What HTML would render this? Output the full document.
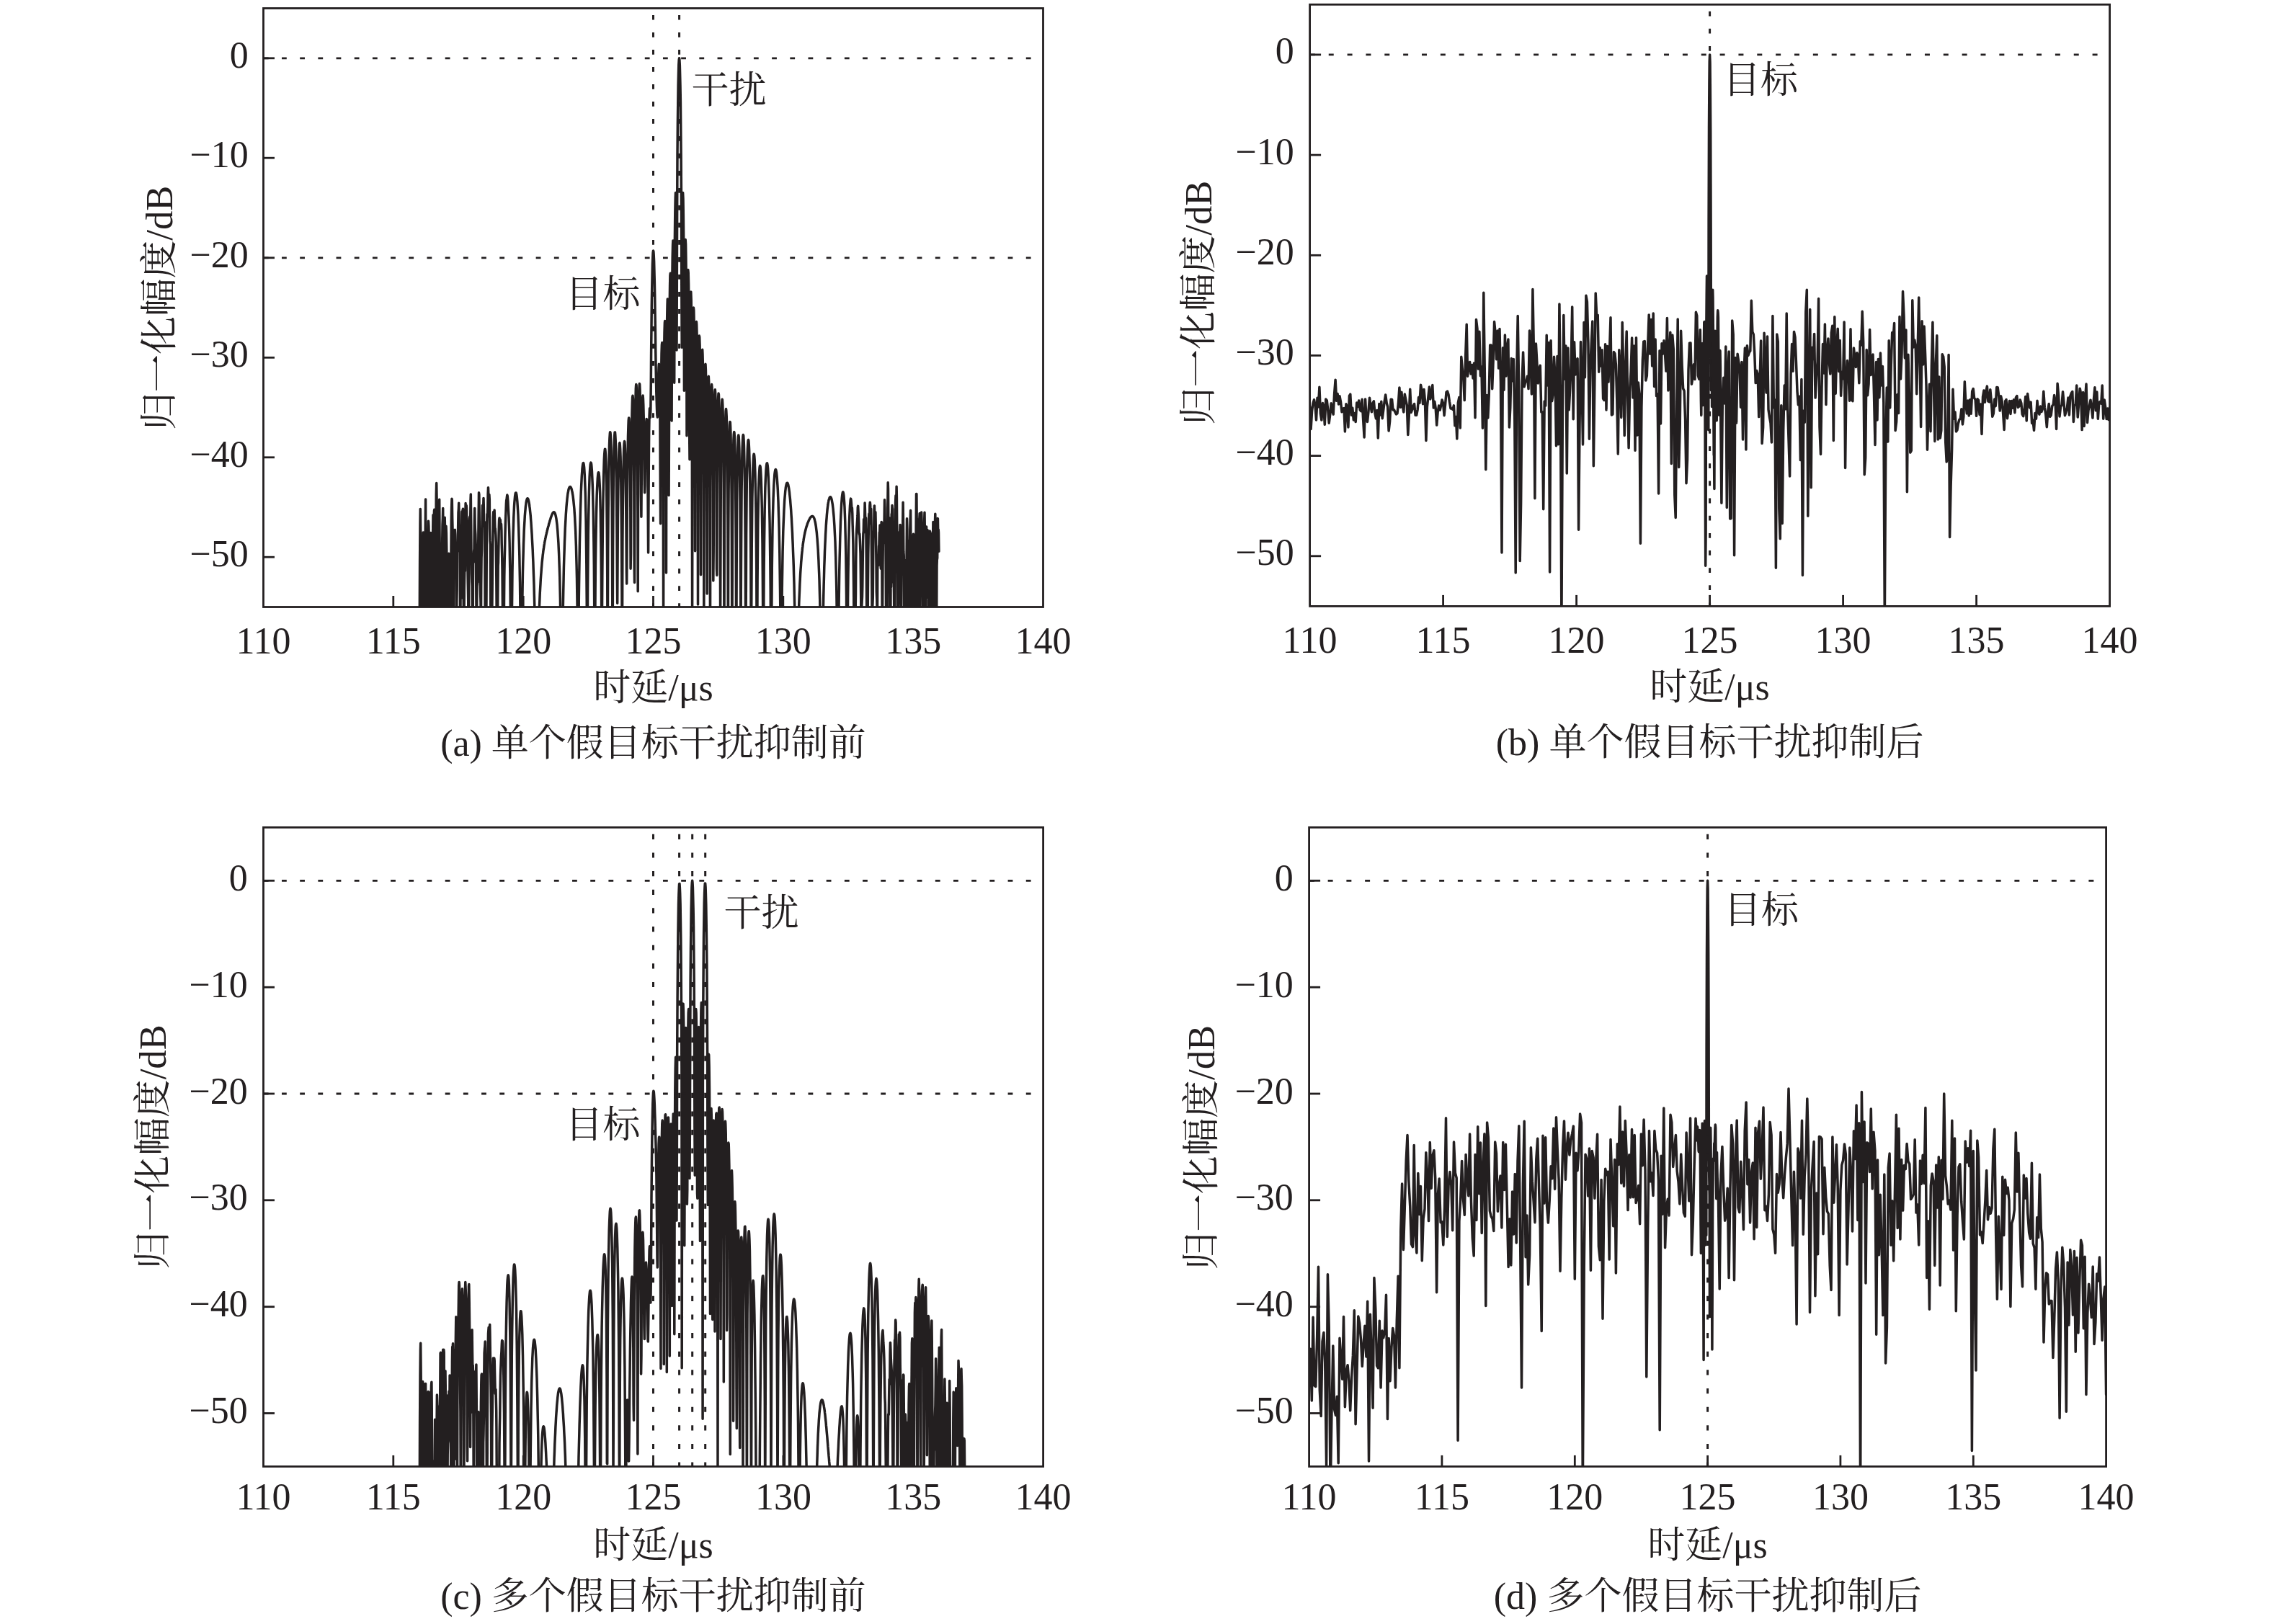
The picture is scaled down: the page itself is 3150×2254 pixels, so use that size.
<!DOCTYPE html>
<html><head><meta charset="utf-8"><style>
html,body{margin:0;padding:0;background:#fff;}
svg{display:block;}
text{font-family:"Liberation Serif", "Noto Serif CJK SC", serif;font-size:52px;fill:#231f20;}
text.yl{font-size:52.7px;}
</style></head><body>
<svg width="3150" height="2254" viewBox="0 0 3150 2254">
<clipPath id="clipa"><rect x="365.5" y="11.5" width="1082.0" height="831.0"/></clipPath>
<polyline clip-path="url(#clipa)" points="546.2,882.5 546.6,882.5 546.9,882.5 547.3,882.5 547.6,882.5 548.0,882.5 548.4,882.5 548.7,882.5 549.1,882.5 549.4,882.5 549.8,882.5 550.2,882.5 550.5,882.5 550.9,882.5 551.2,882.5 551.6,882.5 552.0,882.5 552.3,882.5 552.7,882.5 553.0,882.5 553.4,882.5 553.8,882.5 554.1,882.5 554.5,882.5 554.9,882.5 555.2,882.5 555.6,882.5 555.9,882.5 556.3,882.5 556.7,882.5 557.0,882.5 557.4,882.5 557.7,882.5 558.1,882.5 558.5,882.5 558.8,882.5 559.2,882.5 559.5,882.5 559.9,882.5 560.3,882.5 560.6,882.5 561.0,882.5 561.3,882.5 561.7,882.5 562.1,882.5 562.4,882.5 562.8,882.5 563.1,882.5 563.5,882.5 563.9,882.5 564.2,882.5 564.6,882.5 564.9,882.5 565.3,882.5 565.7,882.5 566.0,882.5 566.4,882.5 566.8,882.5 567.1,882.5 567.5,882.5 567.8,882.5 568.2,882.5 568.6,882.5 568.9,882.5 569.3,882.5 569.6,882.5 570.0,882.5 570.4,882.5 570.7,882.5 571.1,882.5 571.4,882.5 571.8,882.5 572.2,882.5 572.5,882.5 572.9,882.5 573.2,882.5 573.6,882.5 574.0,882.5 574.3,882.5 574.7,882.5 575.0,882.5 575.4,882.5 575.8,882.5 576.1,882.5 576.5,882.5 576.9,882.5 577.2,882.5 577.6,882.5 577.9,882.5 578.3,882.5 578.7,882.5 579.0,882.5 579.4,882.5 579.7,882.5 580.1,882.5 580.5,882.5 580.8,882.5 581.2,882.5 581.5,882.5 581.9,882.5 582.3,851.6 582.6,780.5 583.0,726.6 583.3,706.4 583.7,736.7 584.1,809.5 584.4,815.2 584.8,763.2 585.1,857.3 585.5,882.5 585.9,843.8 586.2,819.6 586.6,796.1 586.9,767.9 587.3,739.0 587.7,741.0 588.0,771.6 588.4,816.1 588.8,845.8 589.1,837.1 589.5,882.5 589.8,882.5 590.2,739.6 590.6,693.0 590.9,763.7 591.3,778.9 591.6,809.4 592.0,882.5 592.4,882.5 592.7,882.5 593.1,847.7 593.4,789.9 593.8,764.7 594.2,739.5 594.5,723.2 594.9,729.8 595.2,743.0 595.6,769.2 596.0,803.0 596.3,882.5 596.7,789.9 597.0,761.6 597.4,754.6 597.8,739.6 598.1,753.6 598.5,763.6 598.9,758.1 599.2,823.9 599.6,871.7 599.9,882.5 600.3,816.8 600.7,735.4 601.0,714.7 601.4,732.8 601.7,735.3 602.1,722.2 602.5,708.8 602.8,707.4 603.2,783.0 603.5,882.5 603.9,882.5 604.3,836.2 604.6,781.0 605.0,718.8 605.3,686.1 605.7,670.5 606.1,692.9 606.4,732.6 606.8,771.1 607.1,820.7 607.5,882.5 607.9,882.5 608.2,820.3 608.6,754.8 609.0,750.9 609.3,709.3 609.7,693.2 610.0,736.3 610.4,772.8 610.8,761.4 611.1,768.8 611.5,869.6 611.8,783.5 612.2,795.4 612.6,877.7 612.9,848.7 613.3,797.3 613.6,760.9 614.0,728.6 614.4,718.8 614.7,705.4 615.1,756.3 615.4,882.5 615.8,882.5 616.2,876.4 616.5,882.5 616.9,776.2 617.2,718.3 617.6,739.4 618.0,852.9 618.3,860.1 618.7,751.8 619.0,730.3 619.4,739.8 619.8,764.0 620.1,822.2 620.5,827.9 620.9,882.5 621.2,822.8 621.6,779.0 621.9,780.7 622.3,781.3 622.7,768.2 623.0,781.8 623.4,843.4 623.7,851.3 624.1,839.9 624.5,882.5 624.8,882.5 625.2,882.5 625.5,838.9 625.9,779.8 626.3,723.6 626.6,705.7 627.0,692.3 627.3,694.0 627.7,720.4 628.1,736.2 628.4,759.6 628.8,882.3 629.1,870.2 629.5,785.3 629.9,780.7 630.2,796.2 630.6,769.8 631.0,765.6 631.3,735.2 631.7,741.3 632.0,757.1 632.4,762.1 632.8,772.7 633.1,841.7 633.5,881.5 633.8,835.8 634.2,817.9 634.6,753.4 634.9,765.7 635.3,763.4 635.6,735.3 636.0,711.5 636.4,706.5 636.7,698.3 637.1,714.5 637.4,747.0 637.8,742.4 638.2,749.0 638.5,846.8 638.9,882.5 639.2,780.9 639.6,774.6 640.0,804.3 640.3,829.8 640.7,735.2 641.0,710.0 641.4,721.7 641.8,725.1 642.1,707.7 642.5,706.2 642.9,756.1 643.2,834.7 643.6,870.1 643.9,882.5 644.3,816.2 644.7,794.7 645.0,773.1 645.4,792.5 645.7,732.7 646.1,698.5 646.5,730.0 646.8,741.7 647.2,701.6 647.5,705.4 647.9,726.3 648.3,731.8 648.6,751.3 649.0,790.2 649.3,810.8 649.7,831.6 650.1,882.5 650.4,867.8 650.8,757.0 651.1,726.8 651.5,719.6 651.9,717.3 652.2,731.7 652.6,731.9 653.0,694.6 653.3,686.1 653.7,728.0 654.0,767.4 654.4,796.6 654.8,807.9 655.1,813.5 655.5,876.2 655.8,882.5 656.2,864.0 656.6,772.2 656.9,768.4 657.3,780.2 657.6,765.2 658.0,761.9 658.4,722.8 658.7,705.4 659.1,726.7 659.4,735.7 659.8,741.4 660.2,757.1 660.5,770.9 660.9,831.8 661.2,882.5 661.6,849.5 662.0,813.6 662.3,810.1 662.7,778.0 663.0,758.5 663.4,768.4 663.8,748.5 664.1,719.9 664.5,683.8 664.9,686.6 665.2,720.9 665.6,758.9 665.9,808.6 666.3,806.8 666.7,826.0 667.0,836.1 667.4,882.5 667.7,813.2 668.1,774.5 668.5,763.5 668.8,735.8 669.2,712.0 669.5,701.4 669.9,710.5 670.3,721.1 670.6,706.7 671.0,691.4 671.3,703.1 671.7,730.1 672.1,725.1 672.4,724.6 672.8,776.1 673.1,839.4 673.5,882.5 673.9,882.5 674.2,882.5 674.6,882.5 675.0,833.1 675.3,765.9 675.7,727.7 676.0,713.4 676.4,717.4 676.8,704.3 677.1,685.5 677.5,676.7 677.8,685.0 678.2,704.2 678.6,702.5 678.9,686.4 679.3,693.1 679.6,734.1 680.0,750.9 680.4,755.8 680.7,830.8 681.1,873.3 681.4,854.8 681.8,882.5 682.2,882.5 682.5,866.5 682.9,842.8 683.2,814.0 683.6,778.3 684.0,743.3 684.3,718.2 684.7,710.5 685.1,715.6 685.4,723.9 685.8,716.8 686.1,708.1 686.5,720.2 686.9,732.8 687.2,733.2 687.6,738.0 687.9,742.5 688.3,752.9 688.7,789.2 689.0,826.1 689.4,880.2 689.7,882.5 690.1,882.5 690.5,882.5 690.8,828.0 691.2,785.3 691.5,780.4 691.9,755.9 692.3,732.1 692.6,721.7 693.0,718.9 693.3,732.2 693.7,733.5 694.1,721.1 694.4,722.8 694.8,730.0 695.1,731.2 695.5,727.3 695.9,735.6 696.2,754.0 696.6,767.5 697.0,790.0 697.3,825.2 697.7,867.6 698.0,882.5 698.4,882.5 698.8,882.5 699.1,882.5 699.5,836.7 699.8,800.8 700.2,777.4 700.6,763.2 700.9,745.6 701.3,729.4 701.6,720.1 702.0,709.5 702.4,698.9 702.7,694.3 703.1,693.0 703.4,690.0 703.8,687.1 704.2,688.1 704.5,691.3 704.9,695.9 705.2,702.6 705.6,710.0 706.0,717.4 706.3,725.8 706.7,737.2 707.1,752.4 707.4,770.9 707.8,792.8 708.1,820.7 708.5,860.0 708.9,882.5 709.2,882.5 709.6,882.5 709.9,882.5 710.3,863.1 710.7,823.6 711.0,794.8 711.4,772.5 711.7,754.7 712.1,740.0 712.5,727.9 712.8,717.8 713.2,709.4 713.5,702.5 713.9,696.8 714.3,692.3 714.6,688.8 715.0,686.2 715.3,684.6 715.7,683.9 716.1,683.9 716.4,684.8 716.8,686.5 717.2,689.0 717.5,692.3 717.9,696.5 718.2,701.5 718.6,707.6 719.0,714.6 719.3,722.8 719.7,732.2 720.0,743.1 720.4,755.7 720.8,770.3 721.1,787.5 721.5,808.0 721.8,833.1 722.2,864.7 722.6,882.5 722.9,882.5 723.3,882.5 723.6,882.5 724.0,882.5 724.4,873.1 724.7,841.8 725.1,817.3 725.4,797.5 725.8,781.1 726.2,767.2 726.5,755.4 726.9,745.2 727.2,736.4 727.6,728.7 728.0,722.0 728.3,716.2 728.7,711.2 729.1,706.9 729.4,703.2 729.8,700.1 730.1,697.6 730.5,695.5 730.9,693.9 731.2,692.8 731.6,692.1 731.9,691.8 732.3,691.8 732.7,692.3 733.0,693.1 733.4,694.3 733.7,695.8 734.1,697.7 734.5,699.9 734.8,702.5 735.2,705.4 735.5,708.6 735.9,712.2 736.3,716.2 736.6,720.6 737.0,725.3 737.3,730.5 737.7,736.0 738.1,742.1 738.4,748.6 738.8,755.6 739.2,763.1 739.5,771.3 739.9,780.2 740.2,789.8 740.6,800.3 741.0,811.8 741.3,824.5 741.7,838.6 742.0,854.4 742.4,872.5 742.8,882.5 743.1,882.5 743.5,882.5 743.8,882.5 744.2,882.5 744.6,882.5 744.9,882.5 745.3,882.5 745.6,882.5 746.0,882.5 746.4,882.5 746.7,882.5 747.1,882.5 747.4,876.2 747.8,862.9 748.2,851.4 748.5,841.2 748.9,832.2 749.2,824.1 749.6,816.8 750.0,810.2 750.3,804.2 750.7,798.7 751.1,793.6 751.4,789.0 751.8,784.7 752.1,780.7 752.5,777.0 752.9,773.6 753.2,770.4 753.6,767.5 753.9,764.7 754.3,762.0 754.7,759.6 755.0,757.3 755.4,755.1 755.7,753.0 756.1,751.0 756.5,749.1 756.8,747.3 757.2,745.6 757.5,743.9 757.9,742.3 758.3,740.7 758.6,739.2 759.0,737.7 759.3,736.3 759.7,734.9 760.1,733.5 760.4,732.1 760.8,730.8 761.2,729.4 761.5,728.1 761.9,726.8 762.2,725.6 762.6,724.3 763.0,723.1 763.3,721.9 763.7,720.7 764.0,719.6 764.4,718.4 764.8,717.4 765.1,716.4 765.5,715.4 765.8,714.5 766.2,713.7 766.6,712.9 766.9,712.3 767.3,711.7 767.6,711.3 768.0,711.0 768.4,710.8 768.7,710.8 769.1,710.9 769.4,711.2 769.8,711.8 770.2,712.5 770.5,713.5 770.9,714.7 771.2,716.2 771.6,718.0 772.0,720.1 772.3,722.6 772.7,725.4 773.1,728.7 773.4,732.5 773.8,736.8 774.1,741.6 774.5,747.1 774.9,753.3 775.2,760.3 775.6,768.3 775.9,777.4 776.3,787.9 776.7,799.9 777.0,814.0 777.4,830.6 777.7,850.7 778.1,875.7 778.5,882.5 778.8,882.5 779.2,882.5 779.5,882.5 779.9,882.5 780.3,882.5 780.6,882.5 781.0,870.9 781.3,844.0 781.7,822.1 782.1,803.8 782.4,788.1 782.8,774.5 783.2,762.5 783.5,751.9 783.9,742.5 784.2,734.0 784.6,726.5 785.0,719.7 785.3,713.6 785.7,708.2 786.0,703.3 786.4,698.9 786.8,695.0 787.1,691.6 787.5,688.5 787.8,685.9 788.2,683.6 788.6,681.6 788.9,679.9 789.3,678.6 789.6,677.5 790.0,676.6 790.4,676.1 790.7,675.7 791.1,675.6 791.4,675.7 791.8,676.0 792.2,676.5 792.5,677.2 792.9,678.2 793.3,679.3 793.6,680.7 794.0,682.3 794.3,684.2 794.7,686.3 795.1,688.8 795.4,691.5 795.8,694.6 796.1,698.0 796.5,701.9 796.9,706.2 797.2,711.1 797.6,716.6 797.9,722.8 798.3,729.9 798.7,737.9 799.0,747.1 799.4,757.7 799.7,770.1 800.1,784.7 800.5,802.3 800.8,823.6 801.2,849.8 801.5,881.9 801.9,882.5 802.3,882.5 802.6,882.5 803.0,865.7 803.3,830.1 803.7,800.4 804.1,775.5 804.4,754.5 804.8,736.4 805.2,720.7 805.5,707.0 805.9,695.0 806.2,684.5 806.6,675.4 807.0,667.5 807.3,660.7 807.7,655.0 808.0,650.4 808.4,646.9 808.8,644.3 809.1,642.9 809.5,642.5 809.8,643.2 810.2,645.2 810.6,648.4 810.9,652.9 811.3,659.1 811.6,666.9 812.0,676.8 812.4,689.2 812.7,704.6 813.1,724.0 813.4,749.0 813.8,782.5 814.2,831.5 814.5,882.5 814.9,882.5 815.3,882.5 815.6,817.1 816.0,772.3 816.3,740.6 816.7,716.7 817.1,698.0 817.4,683.2 817.8,671.3 818.1,661.8 818.5,654.5 818.9,648.9 819.2,645.1 819.6,642.8 819.9,642.1 820.3,642.7 820.7,644.8 821.0,648.4 821.4,653.6 821.7,660.4 822.1,669.0 822.5,679.6 822.8,692.6 823.2,708.5 823.5,728.0 823.9,752.4 824.3,783.8 824.6,825.7 825.0,882.1 825.3,882.5 825.7,879.0 826.1,824.7 826.4,784.7 826.8,755.0 827.2,732.0 827.5,713.8 827.9,699.0 828.2,687.1 828.6,677.5 829.0,669.9 829.3,664.0 829.7,659.7 830.0,656.9 830.4,655.7 830.8,655.9 831.1,657.6 831.5,661.0 831.8,666.1 832.2,673.2 832.6,682.7 832.9,695.0 833.3,710.9 833.6,731.5 834.0,758.9 834.4,796.7 834.7,850.2 835.1,882.5 835.4,861.4 835.8,800.0 836.2,755.1 836.5,721.9 836.9,696.3 837.3,676.1 837.6,660.1 838.0,647.3 838.3,637.5 838.7,630.3 839.1,625.6 839.4,623.2 839.8,623.4 840.1,626.1 840.5,631.8 840.9,640.7 841.2,653.8 841.6,672.1 841.9,697.8 842.3,735.3 842.7,795.4 843.0,882.5 843.4,857.8 843.7,765.2 844.1,711.9 844.5,676.3 844.8,650.7 845.2,631.8 845.5,618.0 845.9,608.3 846.3,602.3 846.6,599.7 847.0,600.4 847.4,604.5 847.7,612.4 848.1,624.6 848.4,642.3 848.8,667.3 849.2,703.7 849.5,761.6 849.9,878.8 850.2,874.4 850.6,759.4 851.0,702.0 851.3,665.8 851.7,640.8 852.0,623.2 852.4,611.2 852.8,603.6 853.1,599.9 853.5,600.0 853.8,603.6 854.2,611.1 854.6,622.8 854.9,639.5 855.3,662.6 855.6,694.7 856.0,740.9 856.4,807.3 856.7,837.3 857.1,771.7 857.4,718.5 857.8,682.5 858.2,657.5 858.5,639.7 858.9,627.4 859.3,619.5 859.6,615.3 860.0,614.7 860.3,617.4 860.7,623.7 861.1,633.9 861.4,648.7 861.8,669.4 862.1,698.5 862.5,741.7 862.9,814.8 863.2,882.5 863.6,837.9 863.9,752.6 864.3,704.7 864.7,672.8 865.0,650.2 865.4,634.0 865.7,622.8 866.1,615.8 866.5,612.6 866.8,613.0 867.2,617.3 867.5,625.8 867.9,639.3 868.3,659.3 868.6,688.4 869.0,731.6 869.4,793.2 869.7,810.1 870.1,743.3 870.4,689.3 870.8,651.7 871.2,624.8 871.5,605.4 871.9,592.0 872.2,583.6 872.6,579.9 873.0,581.0 873.3,587.4 873.7,599.8 874.0,620.3 874.4,652.4 874.8,704.5 875.1,789.3 875.5,768.1 875.8,683.9 876.2,631.9 876.6,597.8 876.9,574.9 877.3,559.9 877.6,551.6 878.0,549.3 878.4,553.1 878.7,563.7 879.1,582.9 879.4,614.3 879.8,668.0 880.2,786.1 880.5,808.5 880.9,671.6 881.3,611.6 881.6,575.9 882.0,553.2 882.3,539.7 882.7,533.6 883.1,534.3 883.4,542.0 883.8,558.0 884.1,584.7 884.5,628.7 884.9,709.1 885.2,820.7 885.6,684.7 885.9,615.6 886.3,576.3 886.7,552.2 887.0,538.3 887.4,532.4 887.7,533.7 888.1,542.2 888.5,558.9 888.8,585.8 889.2,626.9 889.5,686.2 889.9,717.3 890.3,662.9 890.6,614.0 891.0,582.4 891.4,562.9 891.7,552.3 892.1,549.0 892.4,552.3 892.8,561.9 893.2,577.9 893.5,600.8 893.9,630.5 894.2,663.4 894.6,683.7 895.0,674.2 895.3,649.2 895.7,625.4 896.0,607.0 896.4,593.9 896.8,585.5 897.1,581.6 897.5,582.4 897.8,588.7 898.2,602.0 898.6,625.2 898.9,663.5 899.3,726.5 899.6,767.0 900.0,692.4 900.4,634.1 900.7,598.2 901.1,576.9 901.5,567.0 901.8,566.6 902.2,573.5 902.5,579.2 902.9,566.1 903.3,531.0 903.6,490.6 904.0,454.6 904.3,424.7 904.7,400.6 905.1,381.7 905.4,367.3 905.8,357.1 906.1,350.7 906.5,348.0 906.9,349.3 907.2,354.0 907.6,362.3 907.9,374.2 908.3,389.6 908.7,408.7 909.0,431.3 909.4,456.7 909.7,483.5 910.1,508.9 910.5,529.7 910.8,544.8 911.2,556.4 911.5,566.9 911.9,576.0 912.3,579.0 912.6,571.2 913.0,554.5 913.4,535.8 913.7,520.0 914.1,509.5 914.4,505.2 914.8,508.0 915.2,519.4 915.5,541.9 915.9,581.8 916.2,655.7 916.6,726.8 917.0,618.8 917.3,553.1 917.7,514.3 918.0,490.8 918.4,478.4 918.8,475.5 919.1,482.4 919.5,501.0 919.8,536.8 920.2,607.8 920.6,870.1 920.9,617.6 921.3,532.2 921.6,487.6 922.0,461.7 922.4,448.3 922.7,445.5 923.1,453.4 923.5,474.3 923.8,515.0 924.2,601.5 924.5,795.0 924.9,557.7 925.3,485.8 925.6,446.8 926.0,424.8 926.3,415.1 926.7,416.4 927.1,429.6 927.4,458.8 927.8,517.4 928.1,687.5 928.5,581.9 928.9,476.4 929.2,425.7 929.6,396.9 929.9,382.2 930.3,379.2 930.7,388.1 931.0,411.9 931.4,460.7 931.7,582.1 932.1,584.0 932.5,449.2 932.8,390.6 933.2,357.4 933.6,339.6 933.9,333.9 934.3,340.3 934.6,361.9 935.0,408.2 935.4,525.8 935.7,531.2 936.1,392.4 936.4,331.2 936.8,295.6 937.2,275.4 937.5,267.4 937.9,271.8 938.2,291.9 938.6,339.8 939.0,485.9 939.3,400.9 939.7,279.1 940.0,215.1 940.4,172.1 940.8,140.9 941.1,117.9 941.5,101.2 941.8,89.8 942.2,83.0 942.6,80.8 942.9,83.1 943.3,89.8 943.6,101.3 944.0,118.0 944.4,141.1 944.7,172.3 945.1,215.5 945.5,279.8 945.8,403.0 946.2,482.3 946.5,338.9 946.9,291.4 947.3,271.5 947.6,267.4 948.0,275.7 948.3,296.3 948.7,332.5 949.1,395.2 949.4,542.3 949.8,515.9 950.1,404.2 950.5,359.3 950.9,338.5 951.2,332.6 951.6,338.8 951.9,357.4 952.3,391.9 952.7,453.5 953.0,604.7 953.4,560.7 953.7,451.2 954.1,405.0 954.5,382.5 954.8,374.5 955.2,378.3 955.6,394.0 955.9,424.3 956.3,478.3 956.6,597.2 957.0,637.7 957.4,499.1 957.7,445.2 958.1,417.8 958.4,405.7 958.8,405.2 959.2,415.7 959.5,438.9 959.9,480.2 960.2,558.8 960.6,855.7 961.0,568.9 961.3,491.9 961.7,453.8 962.0,434.2 962.4,427.0 962.8,430.4 963.1,444.5 963.5,471.7 963.8,519.5 964.2,616.5 964.6,764.8 964.9,567.4 965.3,503.3 965.6,469.9 966.0,452.6 966.4,446.6 966.7,450.5 967.1,464.6 967.5,491.2 967.8,537.3 968.2,628.1 968.5,839.1 968.9,597.1 969.3,528.7 969.6,493.1 970.0,473.9 970.3,466.1 970.7,467.7 971.1,478.8 971.4,500.9 971.8,538.7 972.1,606.6 972.5,797.8 972.9,664.3 973.2,570.7 973.6,525.7 973.9,500.8 974.3,488.2 974.7,485.3 975.0,491.3 975.4,506.8 975.7,534.2 976.1,580.5 976.5,669.5 976.8,847.5 977.2,641.4 977.6,572.7 977.9,536.2 978.3,515.7 978.6,506.1 979.0,505.4 979.4,513.3 979.7,530.6 980.1,560.3 980.4,610.3 980.8,711.3 981.2,823.9 981.5,649.8 981.9,586.6 982.2,552.1 982.6,532.5 983.0,523.1 983.3,522.3 983.7,529.5 984.0,545.8 984.4,573.6 984.8,620.1 985.1,709.9 985.5,882.5 985.8,680.5 986.2,609.8 986.6,571.6 986.9,549.2 987.3,537.3 987.6,533.6 988.0,537.6 988.4,549.5 988.7,570.9 989.1,606.1 989.5,666.3 989.8,806.1 990.2,765.5 990.5,654.1 990.9,601.7 991.3,570.9 991.6,552.5 992.0,542.9 992.3,540.7 992.7,545.4 993.1,557.5 993.4,578.5 993.8,612.2 994.1,668.4 994.5,789.2 994.9,798.4 995.2,673.3 995.6,616.8 995.9,583.5 996.3,562.8 996.7,550.9 997.0,546.0 997.4,547.5 997.7,555.3 998.1,570.3 998.5,594.5 998.8,632.3 999.2,696.5 999.6,859.9 999.9,779.2 1000.3,672.9 1000.6,621.6 1001.0,590.5 1001.4,570.9 1001.7,559.4 1002.1,554.3 1002.4,555.0 1002.8,561.5 1003.2,574.3 1003.5,594.8 1003.9,625.8 1004.2,674.9 1004.6,767.9 1005.0,882.5 1005.3,729.5 1005.7,659.9 1006.0,620.4 1006.4,595.5 1006.8,579.7 1007.1,570.8 1007.5,567.6 1007.8,569.8 1008.2,577.3 1008.6,590.8 1008.9,611.6 1009.3,642.4 1009.7,690.2 1010.0,776.5 1010.4,882.5 1010.7,752.9 1011.1,682.2 1011.5,641.9 1011.8,616.1 1012.2,599.6 1012.5,589.7 1012.9,585.4 1013.3,586.1 1013.6,591.9 1014.0,602.9 1014.3,620.3 1014.7,646.0 1015.1,684.4 1015.4,747.3 1015.8,882.5 1016.1,842.5 1016.5,732.6 1016.9,679.4 1017.2,646.6 1017.6,624.9 1017.9,610.9 1018.3,602.6 1018.7,599.4 1019.0,600.7 1019.4,606.7 1019.7,617.6 1020.1,634.5 1020.5,659.2 1020.8,695.6 1021.2,754.1 1021.6,879.6 1021.9,882.2 1022.3,756.4 1022.6,698.6 1023.0,662.9 1023.4,638.9 1023.7,622.5 1024.1,611.8 1024.4,605.8 1024.8,604.0 1025.2,606.1 1025.5,612.2 1025.9,622.8 1026.2,638.6 1026.6,661.1 1027.0,693.3 1027.3,742.4 1027.7,830.3 1028.0,882.5 1028.4,791.5 1028.8,723.0 1029.1,681.8 1029.5,653.9 1029.8,634.2 1030.2,620.3 1030.6,611.0 1030.9,605.5 1031.3,603.5 1031.7,604.8 1032.0,609.4 1032.4,617.5 1032.7,629.6 1033.1,646.5 1033.5,669.7 1033.8,702.1 1034.2,750.5 1034.5,837.7 1034.9,882.5 1035.3,820.5 1035.6,743.9 1036.0,699.9 1036.3,670.3 1036.7,649.2 1037.1,633.9 1037.4,623.0 1037.8,615.8 1038.1,611.7 1038.5,610.5 1038.9,612.0 1039.2,616.3 1039.6,623.5 1039.9,633.8 1040.3,647.9 1040.7,666.6 1041.0,691.4 1041.4,725.3 1041.8,775.3 1042.1,861.7 1042.5,882.5 1042.8,831.2 1043.2,762.3 1043.6,720.6 1043.9,692.0 1044.3,671.3 1044.6,656.1 1045.0,645.1 1045.4,637.3 1045.7,632.5 1046.1,630.3 1046.4,630.5 1046.8,633.1 1047.2,638.2 1047.5,645.8 1047.9,656.3 1048.2,670.2 1048.6,688.2 1049.0,711.7 1049.3,743.2 1049.7,788.2 1050.0,862.7 1050.4,882.5 1050.8,882.5 1051.1,805.6 1051.5,757.6 1051.8,725.4 1052.2,702.0 1052.6,684.4 1052.9,671.2 1053.3,661.3 1053.7,654.1 1054.0,649.4 1054.4,646.9 1054.7,646.4 1055.1,647.8 1055.5,651.3 1055.8,656.9 1056.2,664.7 1056.5,674.9 1056.9,688.1 1057.3,704.9 1057.6,726.3 1058.0,754.4 1058.3,792.9 1058.7,850.8 1059.1,882.5 1059.4,882.5 1059.8,845.9 1060.1,790.7 1060.5,753.7 1060.9,726.7 1061.2,706.0 1061.6,689.7 1061.9,676.7 1062.3,666.4 1062.7,658.3 1063.0,652.1 1063.4,647.6 1063.8,644.6 1064.1,643.0 1064.5,642.8 1064.8,643.9 1065.2,646.3 1065.6,650.1 1065.9,655.3 1066.3,662.0 1066.6,670.3 1067.0,680.4 1067.4,692.7 1067.7,707.7 1068.1,725.9 1068.4,748.4 1068.8,777.4 1069.2,816.7 1069.5,876.3 1069.9,882.5 1070.2,882.5 1070.6,882.5 1071.0,825.0 1071.3,785.5 1071.7,757.0 1072.0,735.0 1072.4,717.5 1072.8,703.2 1073.1,691.5 1073.5,681.8 1073.8,673.9 1074.2,667.3 1074.6,662.1 1074.9,658.0 1075.3,655.0 1075.7,652.9 1076.0,651.8 1076.4,651.5 1076.7,652.1 1077.1,653.5 1077.5,655.7 1077.8,658.7 1078.2,662.6 1078.5,667.3 1078.9,673.0 1079.3,679.7 1079.6,687.4 1080.0,696.4 1080.3,706.6 1080.7,718.5 1081.1,732.2 1081.4,748.2 1081.8,767.1 1082.1,789.8 1082.5,818.2 1082.9,855.2 1083.2,882.5 1083.6,882.5 1083.9,882.5 1084.3,882.5 1084.7,875.3 1085.0,835.9 1085.4,806.8 1085.8,784.1 1086.1,765.7 1086.5,750.4 1086.8,737.5 1087.2,726.5 1087.6,717.1 1087.9,708.9 1088.3,701.8 1088.6,695.7 1089.0,690.5 1089.4,686.0 1089.7,682.1 1090.1,678.9 1090.4,676.3 1090.8,674.1 1091.2,672.5 1091.5,671.3 1091.9,670.5 1092.2,670.2 1092.6,670.2 1093.0,670.7 1093.3,671.5 1093.7,672.6 1094.0,674.1 1094.4,676.0 1094.8,678.2 1095.1,680.7 1095.5,683.6 1095.8,686.8 1096.2,690.4 1096.6,694.3 1096.9,698.5 1097.3,703.2 1097.7,708.2 1098.0,713.6 1098.4,719.4 1098.7,725.7 1099.1,732.4 1099.5,739.7 1099.8,747.5 1100.2,755.9 1100.5,765.1 1100.9,774.9 1101.3,785.7 1101.6,797.5 1102.0,810.5 1102.3,824.9 1102.7,841.1 1103.1,859.6 1103.4,881.1 1103.8,882.5 1104.1,882.5 1104.5,882.5 1104.9,882.5 1105.2,882.5 1105.6,882.5 1105.9,882.5 1106.3,882.5 1106.7,882.5 1107.0,882.5 1107.4,882.5 1107.8,876.4 1108.1,861.2 1108.5,848.2 1108.8,836.9 1109.2,827.0 1109.6,818.1 1109.9,810.2 1110.3,803.1 1110.6,796.6 1111.0,790.7 1111.4,785.4 1111.7,780.5 1112.1,776.0 1112.4,771.8 1112.8,768.0 1113.2,764.5 1113.5,761.2 1113.9,758.2 1114.2,755.3 1114.6,752.7 1115.0,750.3 1115.3,748.0 1115.7,745.9 1116.0,743.9 1116.4,742.0 1116.8,740.2 1117.1,738.6 1117.5,737.0 1117.9,735.6 1118.2,734.2 1118.6,732.8 1118.9,731.6 1119.3,730.4 1119.7,729.3 1120.0,728.2 1120.4,727.2 1120.7,726.2 1121.1,725.3 1121.5,724.4 1121.8,723.6 1122.2,722.7 1122.5,722.0 1122.9,721.2 1123.3,720.6 1123.6,719.9 1124.0,719.3 1124.3,718.7 1124.7,718.2 1125.1,717.8 1125.4,717.4 1125.8,717.0 1126.1,716.8 1126.5,716.6 1126.9,716.5 1127.2,716.4 1127.6,716.5 1127.9,716.6 1128.3,716.9 1128.7,717.3 1129.0,717.8 1129.4,718.5 1129.8,719.4 1130.1,720.4 1130.5,721.5 1130.8,722.9 1131.2,724.5 1131.6,726.3 1131.9,728.4 1132.3,730.8 1132.6,733.5 1133.0,736.5 1133.4,739.8 1133.7,743.6 1134.1,747.8 1134.4,752.4 1134.8,757.7 1135.2,763.5 1135.5,770.0 1135.9,777.3 1136.2,785.5 1136.6,794.7 1137.0,805.2 1137.3,817.2 1137.7,831.1 1138.0,847.4 1138.4,866.9 1138.8,882.5 1139.1,882.5 1139.5,882.5 1139.9,882.5 1140.2,882.5 1140.6,882.5 1140.9,882.5 1141.3,882.5 1141.7,882.5 1142.0,871.5 1142.4,848.6 1142.7,829.5 1143.1,813.2 1143.5,799.0 1143.8,786.5 1144.2,775.5 1144.5,765.6 1144.9,756.7 1145.3,748.7 1145.6,741.5 1146.0,735.0 1146.3,729.0 1146.7,723.7 1147.1,718.8 1147.4,714.5 1147.8,710.5 1148.1,707.0 1148.5,703.9 1148.9,701.1 1149.2,698.6 1149.6,696.5 1149.9,694.7 1150.3,693.2 1150.7,692.0 1151.0,691.0 1151.4,690.3 1151.8,689.9 1152.1,689.7 1152.5,689.8 1152.8,690.2 1153.2,690.8 1153.6,691.7 1153.9,692.8 1154.3,694.3 1154.6,696.0 1155.0,698.1 1155.4,700.5 1155.7,703.3 1156.1,706.4 1156.4,710.0 1156.8,714.0 1157.2,718.6 1157.5,723.8 1157.9,729.6 1158.2,736.1 1158.6,743.6 1159.0,752.0 1159.3,761.7 1159.7,772.8 1160.0,785.7 1160.4,801.0 1160.8,819.3 1161.1,841.8 1161.5,870.3 1161.9,882.5 1162.2,882.5 1162.6,882.5 1162.9,882.5 1163.3,882.5 1163.7,878.3 1164.0,843.6 1164.4,816.3 1164.7,794.0 1165.1,775.3 1165.5,759.4 1165.8,745.7 1166.2,733.8 1166.5,723.5 1166.9,714.6 1167.3,707.0 1167.6,700.5 1168.0,695.0 1168.3,690.6 1168.7,687.2 1169.1,684.8 1169.4,683.3 1169.8,682.8 1170.1,683.4 1170.5,684.9 1170.9,687.7 1171.2,691.6 1171.6,696.8 1172.0,703.5 1172.3,711.8 1172.7,722.1 1173.0,734.7 1173.4,750.2 1173.8,769.4 1174.1,793.9 1174.5,826.3 1174.8,872.5 1175.2,882.5 1175.6,882.5 1175.9,882.5 1176.3,879.7 1176.6,831.3 1177.0,798.0 1177.4,772.9 1177.7,753.5 1178.1,738.6 1178.4,726.6 1178.8,716.2 1179.2,707.9 1179.5,702.0 1179.9,697.6 1180.2,693.9 1180.6,692.1 1181.0,693.6 1181.3,697.1 1181.7,702.2 1182.0,704.7 1182.4,704.8 1182.8,712.5 1183.1,726.4 1183.5,738.8 1183.9,755.1 1184.2,781.5 1184.6,815.6 1184.9,850.1 1185.3,882.5 1185.7,882.5 1186.0,882.5 1186.4,882.5 1186.7,880.3 1187.1,849.7 1187.5,823.1 1187.8,776.0 1188.2,750.1 1188.5,742.5 1188.9,733.2 1189.3,727.2 1189.6,722.1 1190.0,715.2 1190.3,704.2 1190.7,702.4 1191.1,710.7 1191.4,716.7 1191.8,726.2 1192.1,738.6 1192.5,741.6 1192.9,741.1 1193.2,747.7 1193.6,757.1 1194.0,768.3 1194.3,792.0 1194.7,827.8 1195.0,882.5 1195.4,868.0 1195.8,842.5 1196.1,835.9 1196.5,828.0 1196.8,813.9 1197.2,781.3 1197.6,749.8 1197.9,740.7 1198.3,736.7 1198.6,720.8 1199.0,722.7 1199.4,738.8 1199.7,719.8 1200.1,698.0 1200.4,707.1 1200.8,724.2 1201.2,720.4 1201.5,718.8 1201.9,738.9 1202.2,769.6 1202.6,836.2 1203.0,882.5 1203.3,882.5 1203.7,882.5 1204.1,882.5 1204.4,818.4 1204.8,769.5 1205.1,751.9 1205.5,720.3 1205.9,713.0 1206.2,726.6 1206.6,716.7 1206.9,701.9 1207.3,697.2 1207.7,700.8 1208.0,712.7 1208.4,709.9 1208.7,706.3 1209.1,730.3 1209.5,772.5 1209.8,812.4 1210.2,866.7 1210.5,847.4 1210.9,838.8 1211.3,828.2 1211.6,787.1 1212.0,741.5 1212.3,742.8 1212.7,737.5 1213.1,706.2 1213.4,701.9 1213.8,716.1 1214.1,740.3 1214.5,727.0 1214.9,710.7 1215.2,726.0 1215.6,753.7 1216.0,782.1 1216.3,821.8 1216.7,831.2 1217.0,844.9 1217.4,872.4 1217.8,777.3 1218.1,776.0 1218.5,784.9 1218.8,784.7 1219.2,775.6 1219.6,757.9 1219.9,756.3 1220.3,738.7 1220.6,742.0 1221.0,728.9 1221.4,742.1 1221.7,769.1 1222.1,785.4 1222.4,789.2 1222.8,733.7 1223.2,724.4 1223.5,759.6 1223.9,793.6 1224.2,870.8 1224.6,847.0 1225.0,784.2 1225.3,757.0 1225.7,747.7 1226.1,725.7 1226.4,734.9 1226.8,753.3 1227.1,722.7 1227.5,693.7 1227.9,704.9 1228.2,725.2 1228.6,730.3 1228.9,744.6 1229.3,802.5 1229.7,879.4 1230.0,882.5 1230.4,856.5 1230.7,801.4 1231.1,850.5 1231.5,761.1 1231.8,699.7 1232.2,669.7 1232.5,678.5 1232.9,732.6 1233.3,753.1 1233.6,724.0 1234.0,718.8 1234.3,756.5 1234.7,810.5 1235.1,882.5 1235.4,882.5 1235.8,882.5 1236.1,784.9 1236.5,814.8 1236.9,763.9 1237.2,713.5 1237.6,712.4 1238.0,701.5 1238.3,704.9 1238.7,706.4 1239.0,728.5 1239.4,807.7 1239.8,799.2 1240.1,799.3 1240.5,822.8 1240.8,852.6 1241.2,882.5 1241.6,812.4 1241.9,759.9 1242.3,749.9 1242.6,697.2 1243.0,687.7 1243.4,715.9 1243.7,700.3 1244.1,675.3 1244.4,690.7 1244.8,741.1 1245.2,790.7 1245.5,882.5 1245.9,882.5 1246.2,859.1 1246.6,850.4 1247.0,783.0 1247.3,739.1 1247.7,766.8 1248.1,836.7 1248.4,777.3 1248.8,736.5 1249.1,728.4 1249.5,743.7 1249.9,765.9 1250.2,834.9 1250.6,882.5 1250.9,815.6 1251.3,742.8 1251.7,746.0 1252.0,760.4 1252.4,767.2 1252.7,728.3 1253.1,697.3 1253.5,727.0 1253.8,765.4 1254.2,770.4 1254.5,796.7 1254.9,869.4 1255.3,838.1 1255.6,856.2 1256.0,864.7 1256.3,777.5 1256.7,790.7 1257.1,806.0 1257.4,798.7 1257.8,797.5 1258.2,760.1 1258.5,719.7 1258.9,734.4 1259.2,838.0 1259.6,882.5 1260.0,882.5 1260.3,882.5 1260.7,860.7 1261.0,776.8 1261.4,750.7 1261.8,752.9 1262.1,764.7 1262.5,753.4 1262.8,735.5 1263.2,719.6 1263.6,708.6 1263.9,745.3 1264.3,882.5 1264.6,882.5 1265.0,817.9 1265.4,753.4 1265.7,755.5 1266.1,782.3 1266.4,793.9 1266.8,765.0 1267.2,746.3 1267.5,741.3 1267.9,742.5 1268.2,798.8 1268.6,882.5 1269.0,882.5 1269.3,830.3 1269.7,882.5 1270.1,866.3 1270.4,749.8 1270.8,768.8 1271.1,737.9 1271.5,685.6 1271.9,685.6 1272.2,722.4 1272.6,786.2 1272.9,754.5 1273.3,751.0 1273.7,882.5 1274.0,816.0 1274.4,736.9 1274.7,720.9 1275.1,737.9 1275.5,746.0 1275.8,720.1 1276.2,712.4 1276.5,769.9 1276.9,844.6 1277.3,775.8 1277.6,782.2 1278.0,809.1 1278.3,746.9 1278.7,711.1 1279.1,723.8 1279.4,735.9 1279.8,730.4 1280.2,770.6 1280.5,827.9 1280.9,882.5 1281.2,882.5 1281.6,791.9 1282.0,792.5 1282.3,749.7 1282.7,721.4 1283.0,711.3 1283.4,740.4 1283.8,754.6 1284.1,810.2 1284.5,882.5 1284.8,865.2 1285.2,764.7 1285.6,730.9 1285.9,766.3 1286.3,821.2 1286.6,757.7 1287.0,735.6 1287.4,744.9 1287.7,801.0 1288.1,830.2 1288.4,800.0 1288.8,862.6 1289.2,863.1 1289.5,828.0 1289.9,779.1 1290.2,737.1 1290.6,737.8 1291.0,745.2 1291.3,744.5 1291.7,744.4 1292.1,740.5 1292.4,800.3 1292.8,882.5 1293.1,882.5 1293.5,805.3 1293.9,756.3 1294.2,758.1 1294.6,745.9 1294.9,724.4 1295.3,746.2 1295.7,816.1 1296.0,820.7 1296.4,857.4 1296.7,859.1 1297.1,748.1 1297.5,724.0 1297.8,713.3 1298.2,738.2 1298.5,822.0 1298.9,829.0 1299.3,850.7 1299.6,882.5 1300.0,785.5 1300.3,777.1 1300.7,774.4 1301.1,719.6 1301.4,719.9 1301.8,742.8 1302.2,734.9 1302.5,739.1 1302.9,765.3" fill="none" stroke="#231f20" stroke-width="3.5" stroke-linejoin="round" stroke-linecap="round"/>
<line x1="365.8" y1="80.8" x2="1447.5" y2="80.8" stroke="#231f20" stroke-width="2.8" stroke-dasharray="6.80 18.39"/>
<line x1="365.8" y1="357.8" x2="1447.5" y2="357.8" stroke="#231f20" stroke-width="2.8" stroke-dasharray="6.80 18.39"/>
<line x1="906.5" y1="20.9" x2="906.5" y2="842.5" stroke="#231f20" stroke-width="3" stroke-dasharray="6.72 17.29"/>
<line x1="942.6" y1="20.9" x2="942.6" y2="842.5" stroke="#231f20" stroke-width="3" stroke-dasharray="6.72 17.29"/>
<rect x="365.5" y="11.5" width="1082.0" height="831.0" fill="none" stroke="#231f20" stroke-width="2.8"/>
<line x1="365.5" y1="80.8" x2="381.0" y2="80.8" stroke="#231f20" stroke-width="2.8"/>
<text x="344.7" y="93.5" text-anchor="end">0</text>
<line x1="365.5" y1="219.2" x2="381.0" y2="219.2" stroke="#231f20" stroke-width="2.8"/>
<text x="344.7" y="232.1" text-anchor="end">−10</text>
<line x1="365.5" y1="357.8" x2="381.0" y2="357.8" stroke="#231f20" stroke-width="2.8"/>
<text x="344.7" y="370.6" text-anchor="end">−20</text>
<line x1="365.5" y1="496.3" x2="381.0" y2="496.3" stroke="#231f20" stroke-width="2.8"/>
<text x="344.7" y="509.1" text-anchor="end">−30</text>
<line x1="365.5" y1="634.8" x2="381.0" y2="634.8" stroke="#231f20" stroke-width="2.8"/>
<text x="344.7" y="647.5" text-anchor="end">−40</text>
<line x1="365.5" y1="773.2" x2="381.0" y2="773.2" stroke="#231f20" stroke-width="2.8"/>
<text x="344.7" y="786.0" text-anchor="end">−50</text>
<text x="365.5" y="906.8" text-anchor="middle">110</text>
<line x1="545.8" y1="842.5" x2="545.8" y2="827.0" stroke="#231f20" stroke-width="2.8"/>
<text x="545.8" y="906.8" text-anchor="middle">115</text>
<line x1="726.2" y1="842.5" x2="726.2" y2="827.0" stroke="#231f20" stroke-width="2.8"/>
<text x="726.2" y="906.8" text-anchor="middle">120</text>
<line x1="906.5" y1="842.5" x2="906.5" y2="827.0" stroke="#231f20" stroke-width="2.8"/>
<text x="906.5" y="906.8" text-anchor="middle">125</text>
<line x1="1086.8" y1="842.5" x2="1086.8" y2="827.0" stroke="#231f20" stroke-width="2.8"/>
<text x="1086.8" y="906.8" text-anchor="middle">130</text>
<line x1="1267.2" y1="842.5" x2="1267.2" y2="827.0" stroke="#231f20" stroke-width="2.8"/>
<text x="1267.2" y="906.8" text-anchor="middle">135</text>
<text x="1447.5" y="906.8" text-anchor="middle">140</text>
<text x="906.5" y="971.9" text-anchor="middle">时延/μs</text>
<text x="906.5" y="1049.0" text-anchor="middle">(a) 单个假目标干扰抑制前</text>
<text class="yl" transform="translate(239.0,427.3) rotate(-90)" text-anchor="middle">归一化幅度/dB</text>
<clipPath id="clipb"><rect x="1817.6" y="6.3" width="1110.0" height="835.1"/></clipPath>
<polyline clip-path="url(#clipb)" points="1817.6,563.8 1819.1,595.4 1820.6,570.1 1822.0,559.8 1823.5,554.7 1825.0,562.3 1826.5,582.9 1828.0,552.3 1829.4,564.8 1830.9,537.2 1832.4,573.9 1833.9,583.1 1835.4,559.6 1836.8,564.3 1838.3,589.3 1839.8,554.0 1841.3,555.9 1842.8,570.0 1844.2,587.2 1845.7,575.5 1847.2,559.7 1848.7,570.2 1850.2,575.1 1851.6,546.8 1853.1,527.2 1854.6,556.3 1856.1,546.4 1857.6,561.1 1859.0,549.8 1860.5,557.9 1862.0,571.7 1863.5,567.1 1865.0,566.6 1866.4,598.9 1867.9,560.8 1869.4,564.5 1870.9,593.0 1872.4,549.5 1873.8,547.2 1875.3,576.2 1876.8,566.2 1878.3,582.9 1879.8,573.5 1881.2,585.5 1882.7,559.0 1884.2,564.5 1885.7,556.0 1887.2,569.1 1888.6,570.6 1890.1,554.3 1891.6,582.0 1893.1,606.9 1894.6,553.9 1896.0,580.6 1897.5,585.4 1899.0,570.9 1900.5,552.2 1902.0,563.4 1903.4,571.7 1904.9,559.6 1906.4,556.8 1907.9,573.0 1909.4,581.0 1910.8,569.5 1912.3,607.9 1913.8,560.5 1915.3,576.0 1916.8,557.3 1918.2,580.7 1919.7,569.3 1921.2,557.0 1922.7,548.1 1924.2,559.2 1925.6,564.5 1927.1,598.0 1928.6,584.7 1930.1,554.3 1931.6,554.5 1933.0,568.9 1934.5,568.8 1936.0,572.1 1937.5,574.9 1939.0,573.8 1940.4,560.5 1941.9,537.9 1943.4,565.3 1944.9,544.2 1946.4,562.9 1947.8,572.0 1949.3,547.1 1950.8,554.9 1952.3,562.0 1953.8,603.4 1955.2,578.3 1956.7,540.2 1958.2,572.4 1959.7,568.4 1961.2,563.1 1962.6,560.6 1964.1,576.3 1965.6,576.3 1967.1,569.0 1968.6,551.5 1970.0,559.4 1971.5,534.2 1973.0,541.7 1974.5,560.7 1976.0,540.5 1977.4,555.8 1978.9,611.5 1980.4,564.5 1981.9,550.9 1983.4,537.1 1984.8,553.9 1986.3,546.9 1987.8,534.6 1989.3,566.1 1990.8,557.4 1992.2,566.5 1993.7,590.1 1995.2,571.7 1996.7,562.9 1998.2,569.2 1999.6,563.0 2001.1,554.9 2002.6,559.7 2004.1,576.7 2005.6,561.1 2007.0,544.3 2008.5,543.0 2010.0,547.6 2011.5,558.0 2013.0,566.9 2014.4,566.8 2015.9,568.4 2017.4,562.9 2018.9,590.8 2020.4,578.4 2021.8,609.0 2023.3,559.1 2024.8,551.6 2026.3,593.9 2027.8,495.3 2029.2,511.1 2030.7,523.9 2032.2,555.6 2033.7,493.4 2035.2,450.3 2036.6,522.2 2038.1,506.7 2039.6,502.5 2041.1,519.1 2042.6,506.6 2044.0,524.9 2045.5,503.9 2047.0,579.7 2048.5,443.6 2050.0,456.5 2051.4,512.1 2052.9,460.2 2054.4,521.8 2055.9,509.1 2057.4,594.3 2058.8,406.3 2060.3,516.3 2061.8,651.7 2063.3,548.4 2064.8,579.9 2066.2,548.9 2067.7,479.0 2069.2,478.9 2070.7,539.8 2072.2,498.6 2073.6,446.6 2075.1,462.7 2076.6,498.8 2078.1,459.1 2079.6,511.1 2081.0,456.5 2082.5,531.8 2084.0,766.9 2085.5,482.8 2087.0,541.2 2088.4,465.0 2089.9,522.0 2091.4,482.5 2092.9,471.1 2094.4,593.1 2095.8,565.4 2097.3,497.4 2098.8,528.8 2100.3,498.4 2101.8,583.0 2103.2,794.9 2104.7,517.2 2106.2,438.5 2107.7,537.6 2109.2,778.6 2110.6,698.8 2112.1,530.3 2113.6,488.9 2115.1,536.8 2116.6,530.5 2118.0,528.8 2119.5,522.2 2121.0,539.6 2122.5,459.1 2124.0,494.6 2125.4,546.9 2126.9,401.6 2128.4,485.3 2129.9,691.7 2131.4,477.0 2132.8,502.6 2134.3,531.9 2135.8,511.6 2137.3,507.3 2138.8,572.0 2140.2,571.7 2141.7,706.8 2143.2,557.0 2144.7,563.1 2146.2,465.3 2147.6,535.0 2149.1,475.6 2150.6,793.9 2152.1,472.8 2153.6,556.8 2155.0,547.7 2156.5,495.2 2158.0,523.0 2159.5,618.8 2161.0,494.6 2162.4,616.8 2163.9,422.0 2165.4,548.9 2166.9,866.7 2168.4,571.0 2169.8,437.4 2171.3,526.3 2172.8,480.1 2174.3,656.9 2175.8,483.0 2177.2,568.8 2178.7,539.1 2180.2,504.0 2181.7,425.9 2183.2,581.7 2184.6,474.8 2186.1,519.9 2187.6,500.4 2189.1,497.7 2190.6,735.3 2192.0,592.3 2193.5,474.6 2195.0,529.4 2196.5,616.9 2198.0,447.4 2199.4,523.7 2200.9,410.3 2202.4,418.8 2203.9,475.6 2205.4,609.2 2206.8,510.2 2208.3,476.8 2209.8,446.1 2211.3,646.7 2212.8,532.9 2214.2,406.9 2215.7,439.0 2217.2,437.3 2218.7,516.2 2220.2,482.6 2221.6,508.0 2223.1,485.7 2224.6,553.2 2226.1,555.5 2227.6,477.8 2229.0,568.9 2230.5,480.6 2232.0,530.1 2233.5,486.2 2235.0,440.8 2236.4,576.0 2237.9,575.0 2239.4,488.6 2240.9,490.7 2242.4,506.4 2243.8,557.1 2245.3,629.9 2246.8,485.8 2248.3,514.1 2249.8,579.4 2251.2,447.4 2252.7,510.2 2254.2,604.4 2255.7,510.5 2257.2,460.1 2258.6,547.9 2260.1,621.7 2261.6,544.1 2263.1,515.8 2264.6,469.0 2266.0,551.9 2267.5,480.1 2269.0,625.3 2270.5,468.7 2272.0,603.9 2273.4,530.9 2274.9,547.3 2276.4,754.2 2277.9,565.5 2279.4,499.4 2280.8,474.2 2282.3,473.6 2283.8,528.0 2285.3,521.7 2286.8,475.8 2288.2,436.9 2289.7,491.2 2291.2,443.6 2292.7,508.0 2294.2,435.0 2295.6,536.6 2297.1,471.1 2298.6,549.6 2300.1,546.7 2301.6,685.0 2303.0,486.7 2304.5,588.0 2306.0,476.7 2307.5,491.2 2309.0,472.7 2310.4,489.4 2311.9,515.1 2313.4,441.6 2314.9,542.0 2316.4,494.5 2317.8,461.3 2319.3,643.4 2320.8,465.0 2322.3,485.2 2323.8,686.9 2325.2,718.5 2326.7,564.3 2328.2,442.9 2329.7,648.5 2331.2,591.7 2332.6,459.3 2334.1,507.0 2335.6,539.2 2337.1,542.5 2338.6,582.6 2340.0,670.7 2341.5,637.8 2343.0,513.6 2344.5,476.3 2346.0,476.0 2347.4,533.2 2348.9,524.2 2350.4,505.7 2351.9,526.4 2353.4,433.2 2354.8,438.2 2356.3,521.2 2357.8,526.2 2358.2,493.6 2358.5,478.4 2358.9,470.5 2359.3,457.7 2359.7,486.2 2360.0,517.3 2360.4,556.8 2360.8,576.4 2361.1,517.9 2361.5,483.6 2361.9,476.8 2362.2,496.5 2362.6,545.9 2363.0,562.5 2363.4,527.1 2363.7,494.4 2364.1,495.1 2364.5,469.7 2364.8,447.1 2365.2,446.5 2365.6,470.1 2365.9,534.5 2366.3,679.2 2366.7,785.2 2367.1,741.5 2367.4,557.2 2367.8,457.6 2368.2,410.5 2368.5,382.9 2368.9,388.8 2369.3,423.3 2369.6,459.1 2370.0,471.3 2370.4,467.1 2370.8,596.7 2371.1,306.4 2371.5,177.0 2371.9,116.2 2372.2,85.4 2372.6,75.9 2373.0,85.7 2373.3,117.1 2373.7,179.2 2374.1,315.2 2374.5,541.7 2374.8,426.5 2375.2,436.7 2375.6,564.4 2375.9,542.2 2376.3,430.7 2376.7,402.3 2377.0,413.5 2377.4,463.5 2377.8,564.5 2378.2,631.8 2378.5,631.9 2378.9,678.4 2379.3,560.7 2379.6,485.9 2380.0,459.2 2380.4,462.7 2380.7,493.4 2381.1,529.9 2381.5,526.4 2381.9,556.2 2382.2,583.7 2382.6,528.7 2383.0,469.9 2383.3,440.2 2383.7,430.7 2384.1,434.3 2384.4,440.9 2384.8,488.4 2385.2,542.0 2385.6,576.3 2385.9,549.5 2386.3,507.4 2386.7,486.4 2387.0,487.3 2387.4,510.3 2387.4,546.9 2388.9,698.2 2390.4,549.1 2391.8,524.2 2393.3,560.0 2394.8,481.0 2396.3,704.6 2397.8,513.8 2399.2,488.0 2400.7,720.1 2402.2,719.6 2403.7,445.1 2405.2,464.4 2406.6,770.7 2408.1,496.4 2409.6,586.9 2411.1,491.3 2412.6,501.4 2414.0,509.9 2415.5,565.3 2417.0,502.4 2418.5,610.1 2420.0,519.3 2421.4,483.1 2422.9,623.9 2424.4,479.7 2425.9,493.4 2427.4,488.9 2428.8,487.1 2430.3,417.2 2431.8,460.5 2433.3,464.2 2434.8,491.6 2436.2,531.6 2437.7,514.5 2439.2,519.4 2440.7,578.6 2442.2,523.1 2443.6,473.0 2445.1,615.4 2446.6,593.2 2448.1,462.3 2449.6,510.3 2451.0,545.0 2452.5,467.1 2454.0,568.5 2455.5,578.9 2457.0,587.1 2458.4,613.9 2459.9,438.6 2461.4,565.7 2462.9,555.1 2464.4,788.3 2465.8,464.0 2467.3,474.2 2468.8,705.7 2470.3,747.8 2471.8,562.8 2473.2,726.5 2474.7,596.6 2476.2,535.0 2477.7,567.7 2479.2,434.9 2480.6,566.1 2482.1,612.2 2483.6,661.0 2485.1,518.7 2486.6,477.6 2488.0,515.3 2489.5,460.4 2491.0,468.0 2492.5,503.5 2494.0,543.3 2495.4,561.8 2496.9,550.2 2498.4,638.6 2499.9,526.5 2501.4,798.6 2502.8,570.1 2504.3,586.3 2505.8,432.9 2507.3,402.3 2508.8,716.2 2510.2,567.5 2511.7,429.5 2513.2,676.8 2514.7,482.2 2516.2,498.4 2517.6,463.4 2519.1,552.1 2520.6,525.4 2522.1,502.0 2523.6,414.5 2525.0,592.9 2526.5,630.4 2528.0,539.3 2529.5,477.6 2531.0,518.0 2532.4,450.0 2533.9,561.6 2535.4,488.2 2536.9,469.9 2538.4,503.6 2539.8,519.0 2541.3,461.8 2542.8,452.2 2544.3,611.4 2545.8,439.7 2547.2,546.2 2548.7,486.3 2550.2,456.2 2551.7,515.4 2553.2,472.4 2554.6,549.3 2556.1,516.2 2557.6,525.8 2559.1,446.9 2560.6,649.4 2562.0,530.8 2563.5,500.6 2565.0,518.1 2566.5,556.3 2568.0,456.8 2569.4,554.9 2570.9,556.7 2572.4,483.0 2573.9,496.7 2575.4,509.5 2576.8,489.7 2578.3,493.6 2579.8,531.7 2581.3,473.8 2582.8,479.1 2584.2,432.2 2585.7,475.6 2587.2,658.7 2588.7,635.1 2590.2,485.6 2591.6,548.7 2593.1,532.7 2594.6,457.4 2596.1,520.6 2597.6,516.7 2599.0,492.1 2600.5,547.7 2602.0,617.4 2603.5,502.6 2605.0,583.0 2606.4,498.4 2607.9,551.7 2609.4,490.0 2610.9,534.9 2612.4,508.4 2613.8,558.4 2615.3,861.0 2616.8,613.6 2618.3,537.9 2619.8,613.0 2621.2,472.8 2622.7,565.9 2624.2,508.3 2625.7,461.6 2627.2,469.0 2628.6,448.5 2630.1,597.6 2631.6,585.6 2633.1,547.4 2634.6,573.5 2636.0,439.5 2637.5,526.0 2639.0,491.0 2640.5,404.6 2642.0,439.1 2643.4,497.0 2644.9,458.0 2646.4,682.8 2647.9,492.2 2649.4,547.1 2650.8,628.1 2652.3,625.5 2653.8,416.8 2655.3,481.9 2656.8,472.1 2658.2,481.1 2659.7,546.8 2661.2,481.9 2662.7,413.0 2664.2,501.7 2665.6,592.5 2667.1,445.7 2668.6,505.9 2670.1,453.1 2671.6,492.1 2673.0,534.5 2674.5,624.3 2676.0,567.9 2677.5,533.2 2679.0,598.8 2680.4,506.6 2681.9,447.3 2683.4,532.6 2684.9,612.4 2686.4,503.9 2687.8,465.7 2689.3,609.9 2690.8,523.0 2692.3,608.1 2693.8,597.4 2695.2,491.7 2696.7,495.0 2698.2,509.3 2699.7,613.1 2701.2,641.1 2702.6,632.3 2704.1,492.5 2705.6,745.5 2707.1,673.9 2708.6,624.1 2710.0,540.2 2711.5,581.2 2713.0,571.9 2714.5,598.9 2716.0,596.8 2717.4,587.7 2718.9,582.5 2720.4,580.9 2721.9,567.7 2723.4,588.9 2724.8,578.6 2726.3,529.7 2727.8,559.5 2729.3,573.9 2730.8,556.0 2732.2,577.0 2733.7,554.7 2735.2,574.2 2736.7,543.1 2738.2,539.5 2739.6,552.4 2741.1,554.5 2742.6,577.3 2744.1,553.8 2745.6,555.7 2747.0,575.4 2748.5,561.0 2750.0,602.4 2751.5,550.8 2753.0,541.9 2754.4,558.4 2755.9,543.6 2757.4,536.1 2758.9,557.0 2760.4,557.8 2761.8,540.7 2763.3,556.7 2764.8,578.3 2766.3,573.9 2767.8,554.0 2769.2,563.7 2770.7,537.5 2772.2,537.7 2773.7,549.6 2775.2,570.1 2776.6,549.8 2778.1,556.6 2779.6,573.3 2781.1,596.5 2782.6,556.8 2784.0,554.6 2785.5,580.7 2787.0,567.2 2788.5,556.6 2790.0,574.4 2791.4,556.5 2792.9,566.3 2794.4,554.8 2795.9,572.7 2797.4,551.8 2798.8,549.6 2800.3,565.4 2801.8,564.0 2803.3,555.0 2804.8,559.5 2806.2,574.9 2807.7,577.7 2809.2,568.1 2810.7,550.6 2812.2,584.0 2813.6,546.6 2815.1,558.0 2816.6,566.0 2818.1,558.1 2819.6,587.4 2821.0,583.1 2822.5,597.3 2824.0,573.6 2825.5,581.2 2827.0,556.3 2828.4,571.5 2829.9,575.2 2831.4,563.9 2832.9,571.6 2834.4,567.4 2835.8,543.3 2837.3,565.4 2838.8,575.6 2840.3,592.7 2841.8,570.3 2843.2,560.5 2844.7,578.3 2846.2,576.4 2847.7,563.5 2849.2,561.5 2850.6,548.6 2852.1,558.3 2853.6,595.5 2855.1,532.3 2856.6,549.1 2858.0,578.0 2859.5,564.5 2861.0,562.3 2862.5,543.7 2864.0,559.7 2865.4,576.7 2866.9,571.9 2868.4,566.2 2869.9,552.1 2871.4,575.9 2872.8,550.1 2874.3,545.7 2875.8,543.5 2877.3,585.4 2878.8,563.3 2880.2,561.5 2881.7,535.1 2883.2,579.0 2884.7,559.1 2886.2,539.2 2887.6,546.0 2889.1,596.6 2890.6,544.6 2892.1,591.4 2893.6,553.1 2895.0,533.1 2896.5,586.5 2898.0,569.6 2899.5,562.7 2901.0,555.2 2902.4,565.5 2903.9,580.1 2905.4,554.6 2906.9,537.8 2908.4,569.8 2909.8,544.1 2911.3,581.3 2912.8,558.9 2914.3,557.4 2915.8,560.1 2917.2,535.1 2918.7,581.2 2920.2,555.0 2921.7,565.8 2923.2,581.6 2924.6,567.1 2926.1,582.5 2927.6,565.5" fill="none" stroke="#231f20" stroke-width="3.5" stroke-linejoin="round" stroke-linecap="round"/>
<line x1="1817.9" y1="75.9" x2="2927.6" y2="75.9" stroke="#231f20" stroke-width="2.8" stroke-dasharray="6.98 18.87"/>
<line x1="2372.6" y1="15.7" x2="2372.6" y2="841.4" stroke="#231f20" stroke-width="3" stroke-dasharray="6.76 17.38"/>
<rect x="1817.6" y="6.3" width="1110.0" height="835.1" fill="none" stroke="#231f20" stroke-width="2.8"/>
<line x1="1817.6" y1="75.9" x2="1833.1" y2="75.9" stroke="#231f20" stroke-width="2.8"/>
<text x="1795.7" y="88.4" text-anchor="end">0</text>
<line x1="1817.6" y1="215.1" x2="1833.1" y2="215.1" stroke="#231f20" stroke-width="2.8"/>
<text x="1795.7" y="227.6" text-anchor="end">−10</text>
<line x1="1817.6" y1="354.3" x2="1833.1" y2="354.3" stroke="#231f20" stroke-width="2.8"/>
<text x="1795.7" y="366.8" text-anchor="end">−20</text>
<line x1="1817.6" y1="493.4" x2="1833.1" y2="493.4" stroke="#231f20" stroke-width="2.8"/>
<text x="1795.7" y="505.9" text-anchor="end">−30</text>
<line x1="1817.6" y1="632.6" x2="1833.1" y2="632.6" stroke="#231f20" stroke-width="2.8"/>
<text x="1795.7" y="645.1" text-anchor="end">−40</text>
<line x1="1817.6" y1="771.8" x2="1833.1" y2="771.8" stroke="#231f20" stroke-width="2.8"/>
<text x="1795.7" y="784.3" text-anchor="end">−50</text>
<text x="1817.6" y="905.7" text-anchor="middle">110</text>
<line x1="2002.6" y1="841.4" x2="2002.6" y2="825.9" stroke="#231f20" stroke-width="2.8"/>
<text x="2002.6" y="905.7" text-anchor="middle">115</text>
<line x1="2187.6" y1="841.4" x2="2187.6" y2="825.9" stroke="#231f20" stroke-width="2.8"/>
<text x="2187.6" y="905.7" text-anchor="middle">120</text>
<line x1="2372.6" y1="841.4" x2="2372.6" y2="825.9" stroke="#231f20" stroke-width="2.8"/>
<text x="2372.6" y="905.7" text-anchor="middle">125</text>
<line x1="2557.6" y1="841.4" x2="2557.6" y2="825.9" stroke="#231f20" stroke-width="2.8"/>
<text x="2557.6" y="905.7" text-anchor="middle">130</text>
<line x1="2742.6" y1="841.4" x2="2742.6" y2="825.9" stroke="#231f20" stroke-width="2.8"/>
<text x="2742.6" y="905.7" text-anchor="middle">135</text>
<text x="2927.6" y="905.7" text-anchor="middle">140</text>
<text x="2372.6" y="970.8" text-anchor="middle">时延/μs</text>
<text x="2372.6" y="1047.9" text-anchor="middle">(b) 单个假目标干扰抑制后</text>
<text class="yl" transform="translate(1681.4,420.3) rotate(-90)" text-anchor="middle">归一化幅度/dB</text>
<clipPath id="clipc"><rect x="365.5" y="1148.4" width="1082.1" height="887.0"/></clipPath>
<polyline clip-path="url(#clipc)" points="546.2,2075.4 546.6,2075.4 546.9,2075.4 547.3,2075.4 547.7,2075.4 548.0,2075.4 548.4,2075.4 548.7,2075.4 549.1,2075.4 549.5,2075.4 549.8,2075.4 550.2,2075.4 550.5,2075.4 550.9,2075.4 551.3,2075.4 551.6,2075.4 552.0,2075.4 552.3,2075.4 552.7,2075.4 553.1,2075.4 553.4,2075.4 553.8,2075.4 554.1,2075.4 554.5,2075.4 554.9,2075.4 555.2,2075.4 555.6,2075.4 555.9,2075.4 556.3,2075.4 556.7,2075.4 557.0,2075.4 557.4,2075.4 557.8,2075.4 558.1,2075.4 558.5,2075.4 558.8,2075.4 559.2,2075.4 559.6,2075.4 559.9,2075.4 560.3,2075.4 560.6,2075.4 561.0,2075.4 561.4,2075.4 561.7,2075.4 562.1,2075.4 562.4,2075.4 562.8,2075.4 563.2,2075.4 563.5,2075.4 563.9,2075.4 564.2,2075.4 564.6,2075.4 565.0,2075.4 565.3,2075.4 565.7,2075.4 566.0,2075.4 566.4,2075.4 566.8,2075.4 567.1,2075.4 567.5,2075.4 567.9,2075.4 568.2,2075.4 568.6,2075.4 568.9,2075.4 569.3,2075.4 569.7,2075.4 570.0,2075.4 570.4,2075.4 570.7,2075.4 571.1,2075.4 571.5,2075.4 571.8,2075.4 572.2,2075.4 572.5,2075.4 572.9,2075.4 573.3,2075.4 573.6,2075.4 574.0,2075.4 574.3,2075.4 574.7,2075.4 575.1,2075.4 575.4,2075.4 575.8,2075.4 576.1,2075.4 576.5,2075.4 576.9,2075.4 577.2,2075.4 577.6,2075.4 578.0,2075.4 578.3,2075.4 578.7,2075.4 579.0,2075.4 579.4,2075.4 579.8,2075.4 580.1,2075.4 580.5,2075.4 580.8,2075.4 581.2,2075.4 581.6,2075.4 581.9,2075.4 582.3,2075.4 582.6,1975.3 583.0,1909.7 583.4,1874.3 583.7,1864.3 584.1,1902.5 584.4,1943.5 584.8,1966.3 585.2,2066.5 585.5,2055.7 585.9,1974.5 586.2,1944.5 586.6,1917.5 587.0,1932.9 587.3,1931.3 587.7,1920.2 588.1,1989.1 588.4,2075.4 588.8,2075.4 589.1,2075.4 589.5,2028.8 589.9,1970.0 590.2,1923.1 590.6,1920.4 590.9,1963.0 591.3,2008.9 591.7,2075.4 592.0,2075.4 592.4,1995.3 592.7,2026.8 593.1,2049.6 593.5,1997.0 593.8,1942.5 594.2,1931.6 594.5,1968.2 594.9,2015.5 595.3,2021.7 595.6,2017.9 596.0,2039.0 596.3,2075.4 596.7,2052.6 597.1,1973.6 597.4,1932.2 597.8,1935.2 598.2,1938.5 598.5,1923.2 598.9,1918.2 599.2,1949.3 599.6,2046.1 600.0,2075.4 600.3,2075.4 600.7,2075.4 601.0,2075.4 601.4,2075.4 601.8,2075.4 602.1,2027.6 602.5,2075.4 602.8,2075.4 603.2,2023.8 603.6,1970.2 603.9,1977.2 604.3,1986.3 604.6,1998.9 605.0,2075.4 605.4,2047.4 605.7,2035.6 606.1,1974.2 606.4,1936.1 606.8,1950.5 607.2,1978.8 607.5,1951.7 607.9,1956.6 608.3,2011.1 608.6,2010.1 609.0,2075.4 609.3,2009.7 609.7,1965.6 610.1,1951.4 610.4,1963.2 610.8,1926.8 611.1,1878.0 611.5,1877.3 611.9,1903.2 612.2,1942.1 612.6,2002.0 612.9,2075.4 613.3,2059.4 613.7,2008.4 614.0,1990.7 614.4,1913.2 614.7,1873.2 615.1,1882.4 615.5,1882.6 615.8,1873.3 616.2,1876.8 616.5,1949.9 616.9,2074.8 617.3,2075.4 617.6,1932.3 618.0,1902.7 618.4,1936.2 618.7,1943.5 619.1,1960.2 619.4,2027.9 619.8,2010.5 620.2,1937.1 620.5,1960.6 620.9,2075.4 621.2,2018.5 621.6,2003.3 622.0,2000.3 622.3,1974.3 622.7,1942.2 623.0,1931.1 623.4,1952.8 623.8,1961.4 624.1,1909.1 624.5,1911.4 624.8,1967.6 625.2,1954.5 625.6,2012.0 625.9,2075.4 626.3,1966.2 626.6,1955.5 627.0,1954.2 627.4,1890.3 627.7,1869.3 628.1,1872.3 628.5,1864.8 628.8,1894.6 629.2,1998.7 629.5,2033.6 629.9,2075.4 630.3,1992.5 630.6,1978.2 631.0,2025.7 631.3,1921.6 631.7,1873.3 632.1,1876.5 632.4,1856.6 632.8,1827.8 633.1,1831.6 633.5,1850.5 633.9,1883.6 634.2,1986.0 634.6,2037.4 634.9,1913.5 635.3,1866.5 635.7,1859.9 636.0,1834.5 636.4,1806.7 636.7,1784.2 637.1,1779.5 637.5,1784.6 637.8,1807.3 638.2,1869.9 638.5,1924.0 638.9,1958.3 639.3,2070.4 639.6,1955.5 640.0,1868.3 640.4,1826.6 640.7,1806.7 641.1,1793.9 641.4,1788.8 641.8,1798.1 642.2,1818.6 642.5,1837.2 642.9,1871.2 643.2,1975.2 643.6,2075.4 644.0,2032.2 644.3,1942.1 644.7,1859.5 645.0,1814.0 645.4,1791.2 645.8,1779.5 646.1,1787.6 646.5,1796.0 646.8,1803.7 647.2,1838.7 647.6,1858.5 647.9,1887.0 648.3,2009.9 648.6,2027.8 649.0,1947.4 649.4,1889.7 649.7,1846.8 650.1,1813.2 650.5,1785.1 650.8,1782.6 651.2,1806.4 651.5,1832.4 651.9,1863.4 652.3,1936.1 652.6,2008.6 653.0,1925.7 653.3,1940.1 653.7,1960.4 654.1,1933.2 654.4,1885.5 654.8,1853.3 655.1,1845.7 655.5,1877.4 655.9,1903.6 656.2,1894.9 656.6,1905.0 656.9,1972.9 657.3,2075.4 657.7,1968.6 658.0,1949.3 658.4,1924.0 658.7,1904.0 659.1,1915.0 659.5,1931.5 659.8,1944.4 660.2,1958.1 660.6,1906.0 660.9,1893.9 661.3,1950.3 661.6,2027.6 662.0,2075.4 662.4,2035.4 662.7,1985.0 663.1,1970.7 663.4,1977.2 663.8,1959.4 664.2,1962.8 664.5,1998.9 664.9,1981.5 665.2,1975.4 665.6,2075.4 666.0,2075.4 666.3,2030.9 666.7,2005.5 667.0,1991.0 667.4,1947.2 667.8,1919.8 668.1,1908.3 668.5,1907.0 668.8,1958.1 669.2,2075.4 669.6,2075.4 669.9,2075.4 670.3,2075.4 670.7,2002.0 671.0,1991.0 671.4,1965.3 671.7,1915.1 672.1,1877.9 672.5,1872.0 672.8,1869.0 673.2,1862.1 673.5,1877.8 673.9,1899.6 674.3,1908.6 674.6,1934.6 675.0,1977.7 675.3,2037.3 675.7,2075.4 676.1,2052.7 676.4,1966.0 676.8,1916.7 677.1,1873.1 677.5,1851.2 677.9,1845.7 678.2,1842.2 678.6,1855.1 678.9,1860.2 679.3,1844.3 679.7,1838.6 680.0,1853.8 680.4,1882.5 680.8,1905.4 681.1,1927.3 681.5,1971.0 681.8,2062.7 682.2,2075.4 682.6,2050.8 682.9,1982.7 683.3,1956.2 683.6,1929.9 684.0,1897.5 684.4,1885.1 684.7,1897.8 685.1,1905.7 685.4,1895.4 685.8,1885.1 686.2,1888.0 686.5,1901.7 686.9,1919.3 687.2,1934.2 687.6,1933.2 688.0,1928.6 688.3,1940.2 688.7,1957.8 689.0,1990.4 689.4,2062.7 689.8,2075.4 690.1,2075.4 690.5,2075.4 690.9,2075.4 691.2,2075.4 691.6,2075.4 691.9,2075.4 692.3,2075.4 692.7,2064.7 693.0,2003.5 693.4,1979.7 693.7,1967.7 694.1,1933.2 694.5,1910.0 694.8,1900.6 695.2,1889.9 695.5,1881.9 695.9,1876.0 696.3,1866.1 696.6,1860.5 697.0,1861.7 697.3,1861.2 697.7,1865.0 698.1,1875.3 698.4,1889.7 698.8,1909.2 699.1,1931.2 699.5,1960.6 699.9,2018.0 700.2,2075.4 700.6,2075.4 701.0,2016.8 701.3,1943.5 701.7,1898.9 702.0,1866.3 702.4,1842.6 702.8,1823.0 703.1,1807.6 703.5,1794.3 703.8,1783.6 704.2,1776.8 704.6,1772.7 704.9,1770.7 705.3,1769.8 705.6,1771.0 706.0,1775.4 706.4,1783.3 706.7,1794.2 707.1,1808.4 707.4,1827.4 707.8,1852.7 708.2,1887.5 708.5,1938.9 708.9,2031.4 709.2,2075.4 709.6,2011.4 710.0,1927.8 710.3,1878.9 710.7,1845.2 711.1,1820.2 711.4,1801.0 711.8,1786.3 712.1,1774.9 712.5,1766.5 712.9,1760.5 713.2,1756.7 713.6,1755.0 713.9,1755.3 714.3,1757.6 714.7,1761.8 715.0,1768.1 715.4,1776.6 715.7,1787.5 716.1,1801.2 716.5,1818.2 716.8,1839.5 717.2,1866.4 717.5,1901.6 717.9,1951.1 718.3,2031.6 718.6,2075.4 719.0,2075.4 719.3,1981.5 719.7,1930.2 720.1,1896.5 720.4,1872.5 720.8,1854.8 721.2,1841.7 721.5,1832.2 721.9,1825.6 722.2,1821.5 722.6,1819.7 723.0,1820.0 723.3,1822.3 723.7,1826.6 724.0,1832.8 724.4,1841.2 724.8,1851.8 725.1,1865.0 725.5,1881.0 725.8,1900.5 726.2,1924.5 726.6,1954.5 726.9,1993.3 727.3,2046.7 727.6,2075.4 728.0,2075.4 728.4,2075.4 728.7,2046.4 729.1,2007.3 729.4,1980.5 729.8,1961.7 730.2,1948.4 730.5,1939.6 730.9,1934.3 731.2,1932.2 731.6,1933.0 732.0,1936.8 732.3,1943.7 732.7,1953.8 733.1,1967.9 733.4,1986.7 733.8,2012.1 734.1,2047.1 734.5,2075.4 734.9,2075.4 735.2,2075.4 735.6,2075.4 735.9,2057.0 736.3,2013.3 736.7,1981.0 737.0,1955.8 737.4,1935.6 737.7,1919.1 738.1,1905.5 738.5,1894.2 738.8,1884.9 739.2,1877.4 739.5,1871.3 739.9,1866.5 740.3,1863.1 740.6,1860.7 741.0,1859.5 741.3,1859.3 741.7,1860.0 742.1,1861.8 742.4,1864.6 742.8,1868.3 743.2,1873.0 743.5,1878.8 743.9,1885.6 744.2,1893.6 744.6,1902.8 745.0,1913.4 745.3,1925.4 745.7,1939.2 746.0,1955.0 746.4,1973.3 746.8,1994.6 747.1,2019.9 747.5,2050.9 747.8,2075.4 748.2,2075.4 748.6,2075.4 748.9,2075.4 749.3,2075.4 749.6,2075.4 750.0,2075.4 750.4,2068.9 750.7,2047.0 751.1,2030.0 751.4,2016.7 751.8,2006.2 752.2,1997.9 752.5,1991.5 752.9,1986.6 753.3,1983.2 753.6,1980.9 754.0,1979.8 754.3,1979.7 754.7,1980.5 755.1,1982.2 755.4,1984.8 755.8,1988.1 756.1,1992.1 756.5,1996.9 756.9,2002.4 757.2,2008.5 757.6,2015.3 757.9,2022.7 758.3,2030.6 758.7,2039.1 759.0,2048.1 759.4,2057.4 759.7,2067.1 760.1,2075.4 760.5,2075.4 760.8,2075.4 761.2,2075.4 761.5,2075.4 761.9,2075.4 762.3,2075.4 762.6,2075.4 763.0,2075.4 763.4,2075.4 763.7,2075.4 764.1,2075.4 764.4,2075.4 764.8,2075.4 765.2,2075.4 765.5,2075.4 765.9,2075.4 766.2,2075.4 766.6,2075.4 767.0,2075.4 767.3,2075.4 767.7,2068.8 768.0,2056.8 768.4,2045.2 768.8,2034.2 769.1,2023.8 769.5,2014.0 769.8,2004.8 770.2,1996.2 770.6,1988.1 770.9,1980.7 771.3,1973.7 771.6,1967.3 772.0,1961.5 772.4,1956.1 772.7,1951.2 773.1,1946.8 773.5,1942.9 773.8,1939.4 774.2,1936.3 774.5,1933.7 774.9,1931.6 775.3,1929.8 775.6,1928.5 776.0,1927.6 776.3,1927.1 776.7,1927.0 777.1,1927.3 777.4,1928.0 777.8,1929.1 778.1,1930.6 778.5,1932.5 778.9,1934.8 779.2,1937.5 779.6,1940.6 779.9,1944.1 780.3,1948.1 780.7,1952.4 781.0,1957.1 781.4,1962.2 781.7,1967.8 782.1,1973.8 782.5,1980.2 782.8,1987.1 783.2,1994.5 783.6,2002.3 783.9,2010.6 784.3,2019.5 784.6,2029.0 785.0,2039.1 785.4,2049.9 785.7,2061.6 786.1,2074.2 786.4,2075.4 786.8,2075.4 787.2,2075.4 787.5,2075.4 787.9,2075.4 788.2,2075.4 788.6,2075.4 789.0,2075.4 789.3,2075.4 789.7,2075.4 790.0,2075.4 790.4,2075.4 790.8,2075.4 791.1,2075.4 791.5,2075.4 791.8,2075.4 792.2,2075.4 792.6,2075.4 792.9,2075.4 793.3,2075.4 793.7,2075.4 794.0,2075.4 794.4,2075.4 794.7,2075.4 795.1,2075.4 795.5,2075.4 795.8,2075.4 796.2,2075.4 796.5,2075.4 796.9,2075.4 797.3,2075.4 797.6,2075.4 798.0,2075.4 798.3,2075.4 798.7,2075.4 799.1,2075.4 799.4,2075.4 799.8,2075.4 800.1,2075.4 800.5,2075.4 800.9,2075.4 801.2,2075.4 801.6,2075.4 801.9,2075.4 802.3,2059.6 802.7,2040.3 803.0,2022.6 803.4,2006.4 803.8,1991.4 804.1,1977.6 804.5,1964.9 804.8,1953.3 805.2,1942.7 805.6,1933.1 805.9,1924.5 806.3,1916.9 806.6,1910.4 807.0,1904.9 807.4,1900.6 807.7,1897.5 808.1,1895.5 808.4,1894.9 808.8,1895.8 809.2,1898.2 809.5,1902.4 809.9,1908.6 810.2,1917.3 810.6,1929.0 811.0,1944.4 811.3,1965.0 811.7,1993.0 812.0,2033.1 812.4,2075.4 812.8,2075.4 813.1,2075.4 813.5,2048.0 813.9,1991.2 814.2,1950.7 814.6,1919.6 814.9,1894.7 815.3,1874.1 815.7,1856.9 816.0,1842.4 816.4,1830.2 816.7,1820.0 817.1,1811.5 817.5,1804.7 817.8,1799.3 818.2,1795.3 818.5,1792.6 818.9,1791.3 819.3,1791.3 819.6,1792.6 820.0,1795.2 820.3,1799.3 820.7,1804.8 821.1,1811.9 821.4,1820.8 821.8,1831.7 822.1,1844.8 822.5,1860.7 822.9,1879.9 823.2,1903.6 823.6,1933.3 823.9,1972.0 824.3,2024.8 824.7,2075.4 825.0,2075.4 825.4,2042.0 825.8,1989.5 826.1,1952.4 826.5,1925.1 826.8,1904.3 827.2,1888.3 827.6,1875.9 827.9,1866.5 828.3,1859.7 828.6,1855.2 829.0,1852.9 829.4,1852.7 829.7,1854.7 830.1,1859.1 830.4,1866.1 830.8,1876.1 831.2,1890.0 831.5,1908.9 831.9,1934.9 832.2,1972.6 832.6,2033.4 833.0,2075.4 833.3,2075.4 833.7,2014.4 834.0,1947.9 834.4,1902.9 834.8,1869.2 835.1,1842.4 835.5,1820.4 835.9,1802.2 836.2,1786.9 836.6,1774.2 836.9,1763.7 837.3,1755.3 837.7,1748.8 838.0,1744.2 838.4,1741.5 838.7,1740.8 839.1,1742.2 839.5,1745.9 839.8,1752.3 840.2,1761.8 840.5,1775.2 840.9,1793.7 841.3,1819.3 841.6,1856.3 842.0,1914.9 842.3,2030.9 842.7,2031.7 843.1,1907.4 843.4,1842.0 843.8,1798.7 844.1,1766.9 844.5,1742.5 844.9,1723.4 845.2,1708.4 845.6,1696.8 846.0,1688.0 846.3,1682.0 846.7,1678.4 847.0,1677.3 847.4,1678.7 847.8,1682.6 848.1,1689.2 848.5,1698.9 848.8,1712.2 849.2,1729.8 849.6,1753.1 849.9,1784.7 850.3,1829.5 850.6,1901.4 851.0,2048.1 851.4,1961.4 851.7,1863.9 852.1,1810.3 852.4,1775.0 852.8,1750.0 853.2,1731.7 853.5,1718.3 853.9,1708.8 854.2,1702.5 854.6,1699.2 855.0,1698.4 855.3,1700.1 855.7,1704.2 856.1,1710.8 856.4,1719.9 856.8,1731.8 857.1,1746.9 857.5,1765.8 857.9,1789.6 858.2,1820.0 858.6,1860.4 858.9,1919.0 859.3,2019.9 859.7,2075.4 860.0,1966.6 860.4,1900.4 860.7,1860.0 861.1,1832.4 861.5,1812.7 861.8,1798.3 862.2,1787.9 862.5,1780.8 862.9,1776.3 863.3,1774.3 863.6,1774.5 864.0,1776.7 864.3,1781.1 864.7,1787.7 865.1,1796.7 865.4,1808.4 865.8,1823.2 866.2,1842.0 866.5,1865.7 866.9,1896.4 867.2,1937.4 867.6,1997.0 868.0,2075.4 868.3,2075.4 868.7,2075.4 869.0,2007.5 869.4,1972.1 869.8,1952.6 870.1,1943.7 870.5,1943.0 870.8,1949.6 871.2,1962.9 871.6,1982.8 871.9,2007.3 872.3,2028.0 872.6,2027.7 873.0,2001.8 873.4,1966.5 873.7,1932.1 874.1,1900.9 874.4,1873.0 874.8,1848.4 875.2,1826.8 875.5,1808.5 875.9,1793.6 876.3,1782.3 876.6,1774.9 877.0,1771.9 877.3,1773.9 877.7,1782.0 878.1,1798.0 878.4,1825.2 878.8,1870.8 879.1,1949.7 879.5,1971.3 879.9,1872.2 880.2,1807.1 880.6,1764.0 880.9,1733.8 881.3,1712.7 881.7,1698.7 882.0,1690.9 882.4,1689.0 882.7,1693.2 883.1,1704.4 883.5,1724.1 883.8,1756.0 884.2,1809.3 884.5,1918.9 884.9,2018.0 885.3,1838.3 885.6,1768.7 886.0,1728.3 886.4,1702.9 886.7,1687.5 887.1,1680.2 887.4,1679.9 887.8,1686.8 888.2,1701.4 888.5,1725.7 888.9,1763.2 889.2,1822.3 889.6,1907.0 890.0,1880.6 890.3,1805.9 890.7,1760.0 891.0,1732.3 891.4,1716.6 891.8,1710.2 892.1,1711.7 892.5,1720.9 892.8,1738.2 893.2,1764.5 893.6,1800.5 893.9,1841.1 894.3,1858.5 894.6,1834.6 895.0,1802.1 895.4,1777.6 895.7,1762.0 896.1,1754.0 896.5,1752.2 896.8,1755.6 897.2,1763.5 897.5,1775.6 897.9,1792.0 898.3,1812.7 898.6,1837.2 899.0,1859.4 899.3,1861.9 899.7,1836.7 900.1,1802.2 900.4,1772.0 900.8,1749.4 901.1,1735.2 901.5,1729.8 901.9,1734.2 902.2,1750.3 902.6,1779.9 902.9,1807.9 903.3,1777.6 903.7,1715.1 904.0,1662.2 904.4,1621.2 904.7,1589.4 905.1,1564.8 905.5,1545.9 905.8,1531.9 906.2,1522.2 906.5,1516.3 906.9,1514.2 907.3,1515.4 907.6,1519.3 908.0,1525.8 908.4,1534.3 908.7,1544.3 909.1,1555.4 909.4,1567.3 909.8,1579.9 910.2,1594.0 910.5,1610.6 910.9,1631.7 911.2,1659.9 911.6,1698.7 912.0,1745.9 912.3,1759.1 912.7,1712.3 913.0,1663.9 913.4,1628.2 913.8,1603.5 914.1,1587.5 914.5,1579.1 914.8,1578.1 915.2,1584.8 915.6,1600.8 915.9,1629.4 916.3,1679.4 916.6,1783.7 917.0,1899.5 917.4,1709.8 917.7,1638.5 918.1,1597.8 918.5,1573.0 918.8,1559.4 919.2,1555.0 919.5,1559.6 919.9,1574.2 920.3,1601.9 920.6,1650.8 921.0,1751.3 921.3,1893.5 921.7,1691.8 922.1,1620.2 922.4,1580.8 922.8,1558.2 923.1,1547.4 923.5,1546.8 923.9,1556.4 924.2,1578.1 924.6,1617.3 924.9,1690.7 925.3,1904.6 925.7,1728.5 926.0,1634.8 926.4,1588.2 926.7,1562.7 927.1,1551.0 927.5,1551.0 927.8,1562.6 928.2,1588.4 928.6,1636.2 928.9,1734.8 929.3,1881.9 929.6,1683.8 930.0,1614.7 930.4,1579.3 930.7,1562.5 931.1,1559.9 931.4,1571.4 931.8,1600.3 932.2,1658.8 932.5,1812.5 932.9,1758.3 933.2,1636.9 933.6,1583.2 934.0,1555.8 934.3,1545.9 934.7,1552.1 935.0,1578.0 935.4,1638.9 935.8,1851.8 936.1,1674.8 936.5,1567.7 936.8,1513.5 937.2,1482.4 937.6,1467.4 937.9,1467.2 938.3,1484.9 938.7,1533.7 939.0,1693.9 939.4,1584.8 939.7,1455.4 940.1,1385.4 940.5,1337.6 940.8,1302.2 941.2,1275.5 941.5,1255.5 941.9,1241.1 942.3,1231.6 942.6,1226.7 943.0,1226.5 943.3,1230.9 943.7,1239.9 944.1,1254.2 944.4,1274.4 944.8,1302.3 945.1,1340.6 945.5,1396.1 945.9,1489.4 946.2,1898.7 946.6,1520.5 946.9,1444.1 947.3,1409.7 947.7,1394.8 948.0,1393.1 948.4,1403.1 948.8,1425.6 949.1,1465.0 949.5,1535.5 949.8,1728.8 950.2,1614.7 950.6,1509.8 950.9,1461.9 951.3,1437.0 951.6,1426.6 952.0,1428.3 952.4,1442.4 952.7,1472.4 953.1,1529.5 953.4,1671.2 953.8,1650.3 954.2,1516.4 954.5,1457.1 954.9,1423.7 955.2,1405.9 955.6,1400.6 956.0,1408.0 956.3,1431.8 956.7,1484.3 957.0,1635.5 957.4,1561.8 957.8,1429.8 958.1,1362.1 958.5,1317.0 958.9,1284.6 959.2,1260.7 959.6,1243.4 959.9,1231.6 960.3,1224.7 960.7,1222.3 961.0,1224.7 961.4,1231.7 961.7,1243.6 962.1,1260.9 962.5,1284.9 962.8,1317.4 963.2,1362.7 963.5,1430.8 963.9,1564.4 964.3,1631.3 964.6,1483.1 965.0,1431.2 965.3,1407.7 965.7,1400.5 966.1,1406.0 966.4,1424.1 966.8,1458.0 967.1,1518.2 967.5,1656.6 967.9,1663.3 968.2,1526.7 968.6,1470.4 969.0,1440.9 969.3,1427.1 969.7,1425.6 970.0,1436.1 970.4,1461.3 970.8,1509.6 971.1,1616.0 971.5,1722.5 971.8,1533.2 972.2,1463.1 972.6,1424.0 972.9,1401.6 973.3,1391.6 973.6,1393.2 974.0,1408.1 974.4,1442.3 974.7,1517.9 975.1,1969.3 975.4,1490.0 975.8,1396.0 976.2,1340.3 976.5,1301.8 976.9,1273.9 977.2,1253.6 977.6,1239.4 978.0,1230.3 978.3,1226.0 978.7,1226.1 979.1,1231.1 979.4,1240.6 979.8,1255.2 980.1,1275.4 980.5,1302.3 980.9,1338.0 981.2,1386.6 981.6,1458.2 981.9,1594.3 982.3,1672.6 982.7,1526.7 983.0,1480.2 983.4,1463.3 983.7,1464.1 984.1,1479.6 984.5,1511.2 984.8,1566.6 985.2,1677.7 985.5,1823.5 985.9,1629.6 986.3,1570.4 986.6,1544.9 987.0,1538.6 987.3,1548.0 987.7,1574.3 988.1,1625.7 988.4,1737.6 988.8,1831.6 989.2,1660.0 989.5,1598.2 989.9,1567.6 990.2,1554.9 990.6,1556.3 991.0,1571.7 991.3,1604.9 991.7,1669.5 992.0,1848.1 992.4,1749.0 992.8,1638.3 993.1,1587.0 993.5,1559.2 993.8,1546.2 994.2,1545.0 994.6,1555.4 994.9,1579.3 995.3,1623.6 995.6,1712.0 996.0,2036.7 996.4,1693.1 996.7,1613.7 997.1,1572.0 997.4,1548.7 997.8,1537.8 998.2,1537.1 998.5,1546.6 998.9,1567.7 999.2,1605.1 999.6,1672.9 1000.0,1858.4 1000.3,1752.0 1000.7,1642.2 1001.1,1590.4 1001.4,1560.9 1001.8,1545.0 1002.1,1539.4 1002.5,1542.9 1002.9,1556.0 1003.2,1580.4 1003.6,1621.5 1003.9,1695.1 1004.3,1917.9 1004.7,1751.8 1005.0,1652.2 1005.4,1603.6 1005.7,1576.0 1006.1,1561.2 1006.5,1556.2 1006.8,1559.8 1007.2,1572.4 1007.5,1595.4 1007.9,1633.0 1008.3,1697.1 1008.6,1846.5 1009.0,1824.5 1009.3,1696.8 1009.7,1641.2 1010.1,1610.1 1010.4,1593.1 1010.8,1586.1 1011.2,1587.7 1011.5,1597.8 1011.9,1617.4 1012.2,1649.3 1012.6,1701.2 1013.0,1800.0 1013.3,2018.4 1013.7,1769.0 1014.0,1696.4 1014.4,1658.1 1014.8,1636.5 1015.1,1626.2 1015.5,1624.8 1015.8,1631.7 1016.2,1647.4 1016.6,1673.8 1016.9,1715.9 1017.3,1787.8 1017.6,1972.2 1018.0,1867.6 1018.4,1763.5 1018.7,1714.4 1019.1,1686.9 1019.4,1672.5 1019.8,1667.8 1020.2,1671.6 1020.5,1684.0 1020.9,1706.3 1021.3,1742.3 1021.6,1802.0 1022.0,1928.1 1022.3,1982.5 1022.7,1827.6 1023.1,1766.9 1023.4,1733.8 1023.8,1715.6 1024.1,1707.9 1024.5,1709.2 1024.9,1719.3 1025.2,1739.4 1025.6,1773.0 1025.9,1829.7 1026.3,1948.9 1026.7,2009.6 1027.0,1852.5 1027.4,1788.8 1027.7,1752.7 1028.1,1731.2 1028.5,1719.9 1028.8,1717.0 1029.2,1721.9 1029.5,1735.1 1029.9,1758.6 1030.3,1797.0 1030.6,1864.3 1031.0,2040.0 1031.4,1947.5 1031.7,1833.6 1032.1,1778.0 1032.4,1743.9 1032.8,1722.1 1033.2,1708.9 1033.5,1702.6 1033.9,1702.4 1034.2,1708.3 1034.6,1720.7 1035.0,1740.8 1035.3,1771.5 1035.7,1819.4 1036.0,1905.7 1036.4,2075.4 1036.8,1909.2 1037.1,1823.7 1037.5,1777.0 1037.8,1747.4 1038.2,1728.1 1038.6,1716.1 1038.9,1710.0 1039.3,1708.9 1039.6,1712.7 1040.0,1721.2 1040.4,1735.1 1040.7,1755.0 1041.1,1782.8 1041.5,1822.2 1041.8,1882.1 1042.2,1996.9 1042.5,2075.4 1042.9,1929.2 1043.3,1863.4 1043.6,1826.1 1044.0,1802.7 1044.3,1788.3 1044.7,1780.2 1045.1,1777.3 1045.4,1778.9 1045.8,1784.5 1046.1,1793.9 1046.5,1807.0 1046.9,1824.1 1047.2,1845.3 1047.6,1871.0 1047.9,1901.9 1048.3,1938.8 1048.7,1983.2 1049.0,2037.3 1049.4,2075.4 1049.7,2075.4 1050.1,2075.4 1050.5,2075.4 1050.8,2075.4 1051.2,2075.4 1051.6,2075.4 1051.9,2075.4 1052.3,2075.4 1052.6,2075.4 1053.0,2075.4 1053.4,2075.4 1053.7,2075.4 1054.1,2066.0 1054.4,2011.9 1054.8,1964.1 1055.2,1923.8 1055.5,1890.1 1055.9,1861.8 1056.2,1838.3 1056.6,1818.7 1057.0,1802.8 1057.3,1790.2 1057.7,1780.8 1058.0,1774.4 1058.4,1771.1 1058.8,1770.9 1059.1,1774.3 1059.5,1781.5 1059.8,1793.4 1060.2,1811.2 1060.6,1837.5 1060.9,1877.4 1061.3,1945.5 1061.7,2075.4 1062.0,2014.6 1062.4,1899.6 1062.7,1839.4 1063.1,1799.0 1063.5,1769.3 1063.8,1746.7 1064.2,1729.2 1064.5,1715.7 1064.9,1705.6 1065.3,1698.4 1065.6,1694.0 1066.0,1692.2 1066.3,1692.9 1066.7,1696.3 1067.1,1702.4 1067.4,1711.6 1067.8,1724.3 1068.1,1741.5 1068.5,1764.4 1068.9,1795.6 1069.2,1840.6 1069.6,1915.0 1069.9,2075.4 1070.3,1976.7 1070.7,1870.1 1071.0,1814.2 1071.4,1777.2 1071.8,1750.5 1072.1,1730.4 1072.5,1715.1 1072.8,1703.6 1073.2,1695.2 1073.6,1689.4 1073.9,1686.1 1074.3,1684.9 1074.6,1686.0 1075.0,1689.2 1075.4,1694.6 1075.7,1702.2 1076.1,1712.5 1076.4,1725.5 1076.8,1742.0 1077.2,1762.8 1077.5,1789.2 1077.9,1824.1 1078.2,1873.1 1078.6,1953.5 1079.0,2075.4 1079.3,2001.9 1079.7,1903.9 1080.0,1852.1 1080.4,1818.1 1080.8,1793.9 1081.1,1776.1 1081.5,1763.0 1081.9,1753.4 1082.2,1746.8 1082.6,1742.9 1082.9,1741.2 1083.3,1741.7 1083.7,1744.2 1084.0,1748.9 1084.4,1755.6 1084.7,1764.6 1085.1,1776.0 1085.5,1790.2 1085.8,1807.7 1086.2,1829.4 1086.5,1856.5 1086.9,1891.7 1087.3,1940.2 1087.6,2016.1 1088.0,2075.4 1088.3,2074.4 1088.7,1981.0 1089.1,1930.0 1089.4,1896.7 1089.8,1873.4 1090.1,1856.5 1090.5,1844.3 1090.9,1835.8 1091.2,1830.4 1091.6,1827.7 1091.9,1827.6 1092.3,1829.8 1092.7,1834.4 1093.0,1841.6 1093.4,1851.5 1093.8,1864.6 1094.1,1881.5 1094.5,1903.2 1094.8,1931.9 1095.2,1971.3 1095.6,2031.2 1095.9,2075.4 1096.3,2075.4 1096.6,2047.0 1097.0,1980.5 1097.4,1937.8 1097.7,1906.9 1098.1,1883.3 1098.4,1864.6 1098.8,1849.6 1099.2,1837.5 1099.5,1827.7 1099.9,1819.8 1100.2,1813.7 1100.6,1809.1 1101.0,1805.9 1101.3,1803.9 1101.7,1803.1 1102.0,1803.5 1102.4,1804.9 1102.8,1807.5 1103.1,1811.1 1103.5,1815.8 1103.9,1821.7 1104.2,1828.7 1104.6,1837.0 1104.9,1846.6 1105.3,1857.7 1105.7,1870.5 1106.0,1885.2 1106.4,1902.2 1106.7,1922.1 1107.1,1945.8 1107.5,1974.5 1107.8,2010.9 1108.2,2060.3 1108.5,2075.4 1108.9,2075.4 1109.3,2075.4 1109.6,2075.4 1110.0,2052.7 1110.3,2017.7 1110.7,1992.5 1111.1,1973.4 1111.4,1958.7 1111.8,1947.2 1112.1,1938.2 1112.5,1931.4 1112.9,1926.3 1113.2,1922.8 1113.6,1920.6 1114.0,1919.8 1114.3,1920.1 1114.7,1921.5 1115.0,1924.0 1115.4,1927.6 1115.8,1932.2 1116.1,1937.8 1116.5,1944.6 1116.8,1952.5 1117.2,1961.6 1117.6,1972.0 1117.9,1983.8 1118.3,1997.2 1118.6,2012.4 1119.0,2029.7 1119.4,2049.5 1119.7,2072.4 1120.1,2075.4 1120.4,2075.4 1120.8,2075.4 1121.2,2075.4 1121.5,2075.4 1121.9,2075.4 1122.2,2075.4 1122.6,2075.4 1123.0,2075.4 1123.3,2075.4 1123.7,2075.4 1124.1,2075.4 1124.4,2075.4 1124.8,2075.4 1125.1,2075.0 1125.5,2073.5 1125.9,2073.8 1126.2,2075.4 1126.6,2075.4 1126.9,2075.4 1127.3,2075.4 1127.7,2075.4 1128.0,2075.4 1128.4,2075.4 1128.7,2075.4 1129.1,2075.4 1129.5,2075.4 1129.8,2075.4 1130.2,2075.4 1130.5,2075.4 1130.9,2075.4 1131.3,2075.4 1131.6,2075.4 1132.0,2075.4 1132.3,2075.4 1132.7,2075.4 1133.1,2059.5 1133.4,2044.3 1133.8,2030.9 1134.2,2019.2 1134.5,2008.7 1134.9,1999.5 1135.2,1991.2 1135.6,1983.9 1136.0,1977.3 1136.3,1971.5 1136.7,1966.3 1137.0,1961.8 1137.4,1957.9 1137.8,1954.4 1138.1,1951.5 1138.5,1949.1 1138.8,1947.1 1139.2,1945.5 1139.6,1944.3 1139.9,1943.5 1140.3,1943.0 1140.6,1942.9 1141.0,1943.2 1141.4,1943.7 1141.7,1944.6 1142.1,1945.7 1142.4,1947.1 1142.8,1948.8 1143.2,1950.8 1143.5,1953.0 1143.9,1955.4 1144.3,1958.1 1144.6,1961.0 1145.0,1964.0 1145.3,1967.3 1145.7,1970.8 1146.1,1974.4 1146.4,1978.2 1146.8,1982.1 1147.1,1986.2 1147.5,1990.4 1147.9,1994.6 1148.2,1998.9 1148.6,2003.3 1148.9,2007.7 1149.3,2012.1 1149.7,2016.4 1150.0,2020.7 1150.4,2024.9 1150.7,2029.0 1151.1,2033.0 1151.5,2036.8 1151.8,2040.5 1152.2,2044.0 1152.5,2047.4 1152.9,2050.7 1153.3,2053.8 1153.6,2056.9 1154.0,2059.8 1154.4,2062.8 1154.7,2065.7 1155.1,2068.5 1155.4,2071.4 1155.8,2074.2 1156.2,2075.4 1156.5,2075.4 1156.9,2075.4 1157.2,2075.4 1157.6,2075.4 1158.0,2075.4 1158.3,2075.4 1158.7,2075.4 1159.0,2075.4 1159.4,2075.4 1159.8,2075.4 1160.1,2073.0 1160.5,2067.4 1160.8,2061.0 1161.2,2054.1 1161.6,2046.7 1161.9,2039.1 1162.3,2031.4 1162.6,2023.6 1163.0,2015.9 1163.4,2008.4 1163.7,2001.1 1164.1,1994.1 1164.5,1987.5 1164.8,1981.3 1165.2,1975.5 1165.5,1970.2 1165.9,1965.5 1166.3,1961.4 1166.6,1957.9 1167.0,1955.2 1167.3,1953.2 1167.7,1952.1 1168.1,1951.9 1168.4,1952.7 1168.8,1954.6 1169.1,1957.8 1169.5,1962.5 1169.9,1968.9 1170.2,1977.3 1170.6,1988.1 1170.9,2002.0 1171.3,2020.0 1171.7,2043.7 1172.0,2075.4 1172.4,2075.4 1172.7,2075.4 1173.1,2075.4 1173.5,2075.4 1173.8,2075.4 1174.2,2048.2 1174.6,2011.1 1174.9,1982.1 1175.3,1958.5 1175.6,1938.7 1176.0,1922.0 1176.4,1907.8 1176.7,1895.6 1177.1,1885.2 1177.4,1876.4 1177.8,1869.0 1178.2,1862.9 1178.5,1858.1 1178.9,1854.5 1179.2,1852.0 1179.6,1850.7 1180.0,1850.4 1180.3,1851.3 1180.7,1853.3 1181.0,1856.5 1181.4,1861.0 1181.8,1866.7 1182.1,1873.9 1182.5,1882.6 1182.8,1893.0 1183.2,1905.5 1183.6,1920.3 1183.9,1937.9 1184.3,1959.2 1184.6,1985.4 1185.0,2018.7 1185.4,2063.4 1185.7,2075.4 1186.1,2075.4 1186.5,2075.4 1186.8,2075.4 1187.2,2074.9 1187.5,2038.4 1187.9,2013.0 1188.3,1994.7 1188.6,1981.6 1189.0,1972.5 1189.3,1967.1 1189.7,1964.8 1190.1,1965.8 1190.4,1970.1 1190.8,1978.1 1191.1,1990.5 1191.5,2008.6 1191.9,2034.8 1192.2,2074.1 1192.6,2075.4 1192.9,2075.4 1193.3,2075.4 1193.7,2073.7 1194.0,2016.5 1194.4,1975.4 1194.7,1943.5 1195.1,1917.7 1195.5,1896.4 1195.8,1878.5 1196.2,1863.5 1196.6,1850.9 1196.9,1840.4 1197.3,1831.9 1197.6,1825.2 1198.0,1820.3 1198.4,1817.2 1198.7,1815.9 1199.1,1816.6 1199.4,1819.2 1199.8,1824.2 1200.2,1831.8 1200.5,1842.5 1200.9,1857.1 1201.2,1876.9 1201.6,1904.1 1202.0,1943.5 1202.3,2007.1 1202.7,2075.4 1203.0,2075.4 1203.4,1985.9 1203.8,1922.0 1204.1,1879.5 1204.5,1848.2 1204.8,1824.0 1205.2,1804.9 1205.6,1789.6 1205.9,1777.4 1206.3,1768.0 1206.7,1761.1 1207.0,1756.3 1207.4,1753.8 1207.7,1753.4 1208.1,1755.1 1208.5,1759.0 1208.8,1765.4 1209.2,1774.4 1209.5,1786.5 1209.9,1802.3 1210.3,1822.9 1210.6,1849.9 1211.0,1886.8 1211.3,1941.6 1211.7,2041.7 1212.1,2075.4 1212.4,1999.3 1212.8,1923.3 1213.1,1878.0 1213.5,1846.8 1213.9,1824.1 1214.2,1807.5 1214.6,1794.8 1214.9,1785.5 1215.3,1779.3 1215.7,1775.5 1216.0,1774.5 1216.4,1776.1 1216.8,1779.8 1217.1,1784.6 1217.5,1791.1 1217.8,1801.5 1218.2,1816.0 1218.6,1832.7 1218.9,1851.8 1219.3,1877.0 1219.6,1911.1 1220.0,1953.9 1220.4,2021.8 1220.7,2075.4 1221.1,2075.4 1221.4,2003.7 1221.8,1953.4 1222.2,1921.7 1222.5,1896.6 1222.9,1879.7 1223.2,1869.8 1223.6,1861.7 1224.0,1855.0 1224.3,1851.3 1224.7,1848.2 1225.0,1846.5 1225.4,1853.7 1225.8,1863.2 1226.1,1867.1 1226.5,1874.1 1226.9,1885.3 1227.2,1899.6 1227.6,1923.7 1227.9,1940.0 1228.3,1947.5 1228.7,1973.0 1229.0,2009.7 1229.4,2050.1 1229.7,2075.4 1230.1,2075.4 1230.5,2075.4 1230.8,2075.4 1231.2,2075.4 1231.5,2059.2 1231.9,2036.8 1232.3,1990.3 1232.6,1963.0 1233.0,1963.4 1233.3,1963.4 1233.7,1935.6 1234.1,1914.4 1234.4,1921.7 1234.8,1913.2 1235.1,1878.9 1235.5,1863.4 1235.9,1872.8 1236.2,1883.8 1236.6,1891.6 1237.0,1897.3 1237.3,1902.5 1237.7,1917.7 1238.0,1937.4 1238.4,1966.3 1238.8,2010.3 1239.1,2075.4 1239.5,2075.4 1239.8,2044.0 1240.2,1970.7 1240.6,1922.6 1240.9,1900.1 1241.3,1875.3 1241.6,1859.7 1242.0,1860.3 1242.4,1848.1 1242.7,1832.0 1243.1,1835.6 1243.4,1856.3 1243.8,1881.9 1244.2,1904.7 1244.5,1927.1 1244.9,1988.1 1245.2,2075.4 1245.6,2075.4 1246.0,2007.4 1246.3,1935.1 1246.7,1899.9 1247.1,1871.3 1247.4,1851.9 1247.8,1851.9 1248.1,1855.5 1248.5,1849.2 1248.9,1856.3 1249.2,1893.8 1249.6,1914.1 1249.9,1915.1 1250.3,1970.9 1250.7,2030.8 1251.0,2075.4 1251.4,2075.4 1251.7,1965.6 1252.1,1934.8 1252.5,1930.1 1252.8,1941.4 1253.2,1933.5 1253.5,1908.0 1253.9,1909.0 1254.3,1955.2 1254.6,2004.8 1255.0,2075.4 1255.3,2075.4 1255.7,2075.4 1256.1,1986.9 1256.4,1963.1 1256.8,1974.3 1257.2,1976.9 1257.5,2025.8 1257.9,2047.2 1258.2,1974.2 1258.6,1977.5 1259.0,2027.8 1259.3,2075.4 1259.7,2075.4 1260.0,1989.9 1260.4,1976.4 1260.8,1987.7 1261.1,1949.2 1261.5,1924.3 1261.8,1920.5 1262.2,1929.4 1262.6,1981.8 1262.9,2056.6 1263.3,2054.4 1263.6,2014.8 1264.0,2075.4 1264.4,1973.1 1264.7,1940.3 1265.1,1907.2 1265.4,1864.1 1265.8,1857.8 1266.2,1868.4 1266.5,1879.3 1266.9,1903.6 1267.2,1951.7 1267.6,2018.7 1268.0,2075.4 1268.3,2075.4 1268.7,1960.2 1269.1,1878.3 1269.4,1822.0 1269.8,1808.2 1270.1,1821.0 1270.5,1813.0 1270.9,1800.6 1271.2,1803.2 1271.6,1810.3 1271.9,1825.7 1272.3,1871.8 1272.7,1985.7 1273.0,2075.4 1273.4,2022.4 1273.7,1918.7 1274.1,1880.5 1274.5,1842.0 1274.8,1788.4 1275.2,1775.2 1275.5,1787.2 1275.9,1791.6 1276.3,1813.6 1276.6,1849.8 1277.0,1887.4 1277.3,1990.8 1277.7,2038.5 1278.1,1907.6 1278.4,1848.7 1278.8,1815.3 1279.2,1807.0 1279.5,1798.9 1279.9,1785.4 1280.2,1783.2 1280.6,1793.9 1281.0,1810.8 1281.3,1842.4 1281.7,1899.3 1282.0,2066.8 1282.4,2016.2 1282.8,1925.4 1283.1,1855.5 1283.5,1810.0 1283.8,1808.5 1284.2,1801.8 1284.6,1786.7 1284.9,1808.6 1285.3,1840.9 1285.6,1860.2 1286.0,1906.1 1286.4,2019.8 1286.7,1961.2 1287.1,1928.5 1287.4,1888.0 1287.8,1840.0 1288.2,1826.5 1288.5,1829.5 1288.9,1838.7 1289.3,1848.5 1289.6,1859.8 1290.0,1927.8 1290.3,2059.9 1290.7,2037.2 1291.1,2075.4 1291.4,2034.8 1291.8,1942.6 1292.1,1905.3 1292.5,1857.1 1292.9,1832.9 1293.2,1857.9 1293.6,1912.6 1293.9,1966.0 1294.3,2058.4 1294.7,2049.4 1295.0,2041.2 1295.4,2075.4 1295.7,2066.0 1296.1,2016.8 1296.5,1998.3 1296.8,2011.8 1297.2,1974.4 1297.5,1962.9 1297.9,1950.2 1298.3,1919.3 1298.6,1885.8 1299.0,1900.2 1299.4,1936.7 1299.7,1970.3 1300.1,2075.4 1300.4,2075.4 1300.8,2063.1 1301.2,2075.4 1301.5,2006.8 1301.9,1955.4 1302.2,1943.6 1302.6,1911.9 1303.0,1886.6 1303.3,1870.2 1303.7,1919.8 1304.0,2000.6 1304.4,2075.4 1304.8,1934.1 1305.1,1908.5 1305.5,1933.5 1305.8,1902.0 1306.2,1855.6 1306.6,1845.5 1306.9,1886.2 1307.3,1981.7 1307.6,2027.7 1308.0,2029.5 1308.4,2075.4 1308.7,1968.9 1309.1,1968.2 1309.5,1978.5 1309.8,1950.2 1310.2,1948.7 1310.5,1947.3 1310.9,1913.9 1311.3,1939.3 1311.6,2014.2 1312.0,2075.4 1312.3,2075.4 1312.7,2035.4 1313.1,2007.5 1313.4,1989.7 1313.8,1948.9 1314.1,1947.3 1314.5,1985.1 1314.9,1997.4 1315.2,1991.4 1315.6,2062.0 1315.9,2075.4 1316.3,2075.4 1316.7,2075.4 1317.0,2075.4 1317.4,1969.0 1317.7,1916.4 1318.1,1953.0 1318.5,2075.4 1318.8,2075.4 1319.2,2075.4 1319.6,2075.4 1319.9,2075.4 1320.3,2075.4 1320.6,2075.4 1321.0,2075.4 1321.4,2069.8 1321.7,2075.4 1322.1,2075.4 1322.4,2053.8 1322.8,1968.4 1323.2,1932.0 1323.5,1941.0 1323.9,1940.4 1324.2,1971.8 1324.6,2041.2 1325.0,2075.4 1325.3,2065.9 1325.7,1968.2 1326.0,1962.3 1326.4,1947.2 1326.8,1926.8 1327.1,1931.6 1327.5,1962.0 1327.8,1954.7 1328.2,1973.5 1328.6,2006.4 1328.9,1969.7 1329.3,1959.7 1329.7,1914.7 1330.0,1888.6 1330.4,1901.7 1330.7,1903.5 1331.1,1915.3 1331.5,1963.8 1331.8,2034.7 1332.2,2075.4 1332.5,2075.4 1332.9,2075.4 1333.3,2010.7 1333.6,1926.6 1334.0,1899.8 1334.3,1912.9 1334.7,1923.5 1335.1,1969.2 1335.4,2035.4 1335.8,1995.3 1336.1,2064.4 1336.5,2075.4 1336.9,2039.7 1337.2,2046.9 1337.6,2060.8 1337.9,1996.7 1338.3,1999.4 1338.7,2036.7 1339.0,2049.7" fill="none" stroke="#231f20" stroke-width="3.5" stroke-linejoin="round" stroke-linecap="round"/>
<line x1="365.8" y1="1222.3" x2="1447.6" y2="1222.3" stroke="#231f20" stroke-width="2.8" stroke-dasharray="6.80 18.39"/>
<line x1="365.8" y1="1518.0" x2="1447.6" y2="1518.0" stroke="#231f20" stroke-width="2.8" stroke-dasharray="6.80 18.39"/>
<line x1="906.5" y1="1157.8" x2="906.5" y2="2035.4" stroke="#231f20" stroke-width="3" stroke-dasharray="7.18 18.46"/>
<line x1="942.6" y1="1157.8" x2="942.6" y2="2035.4" stroke="#231f20" stroke-width="3" stroke-dasharray="7.18 18.46"/>
<line x1="960.7" y1="1157.8" x2="960.7" y2="2035.4" stroke="#231f20" stroke-width="3" stroke-dasharray="7.18 18.46"/>
<line x1="978.7" y1="1157.8" x2="978.7" y2="2035.4" stroke="#231f20" stroke-width="3" stroke-dasharray="7.18 18.46"/>
<rect x="365.5" y="1148.4" width="1082.1" height="887.0" fill="none" stroke="#231f20" stroke-width="2.8"/>
<line x1="365.5" y1="1222.3" x2="381.0" y2="1222.3" stroke="#231f20" stroke-width="2.8"/>
<text x="343.7" y="1235.8" text-anchor="end">0</text>
<line x1="365.5" y1="1370.2" x2="381.0" y2="1370.2" stroke="#231f20" stroke-width="2.8"/>
<text x="343.7" y="1383.7" text-anchor="end">−10</text>
<line x1="365.5" y1="1518.0" x2="381.0" y2="1518.0" stroke="#231f20" stroke-width="2.8"/>
<text x="343.7" y="1531.5" text-anchor="end">−20</text>
<line x1="365.5" y1="1665.8" x2="381.0" y2="1665.8" stroke="#231f20" stroke-width="2.8"/>
<text x="343.7" y="1679.3" text-anchor="end">−30</text>
<line x1="365.5" y1="1813.7" x2="381.0" y2="1813.7" stroke="#231f20" stroke-width="2.8"/>
<text x="343.7" y="1827.2" text-anchor="end">−40</text>
<line x1="365.5" y1="1961.5" x2="381.0" y2="1961.5" stroke="#231f20" stroke-width="2.8"/>
<text x="343.7" y="1975.0" text-anchor="end">−50</text>
<text x="365.5" y="2094.7" text-anchor="middle">110</text>
<line x1="545.8" y1="2035.4" x2="545.8" y2="2019.9" stroke="#231f20" stroke-width="2.8"/>
<text x="545.8" y="2094.7" text-anchor="middle">115</text>
<line x1="726.2" y1="2035.4" x2="726.2" y2="2019.9" stroke="#231f20" stroke-width="2.8"/>
<text x="726.2" y="2094.7" text-anchor="middle">120</text>
<line x1="906.5" y1="2035.4" x2="906.5" y2="2019.9" stroke="#231f20" stroke-width="2.8"/>
<text x="906.5" y="2094.7" text-anchor="middle">125</text>
<line x1="1086.9" y1="2035.4" x2="1086.9" y2="2019.9" stroke="#231f20" stroke-width="2.8"/>
<text x="1086.9" y="2094.7" text-anchor="middle">130</text>
<line x1="1267.2" y1="2035.4" x2="1267.2" y2="2019.9" stroke="#231f20" stroke-width="2.8"/>
<text x="1267.2" y="2094.7" text-anchor="middle">135</text>
<text x="1447.6" y="2094.7" text-anchor="middle">140</text>
<text x="906.5" y="2161.7" text-anchor="middle">时延/μs</text>
<text x="906.5" y="2233.2" text-anchor="middle">(c) 多个假目标干扰抑制前</text>
<text class="yl" transform="translate(230.2,1592.0) rotate(-90)" text-anchor="middle">归一化幅度/dB</text>
<clipPath id="clipd"><rect x="1816.6" y="1148.4" width="1106.0" height="887.0"/></clipPath>
<polyline clip-path="url(#clipd)" points="1816.6,1906.3 1818.4,1872.3 1820.3,1944.0 1822.1,1828.3 1824.0,1923.1 1825.8,1924.5 1827.7,1853.7 1829.5,1758.3 1831.3,1929.3 1833.2,1965.4 1835.0,1861.9 1836.9,1849.4 1838.7,1890.5 1840.6,2034.0 1842.4,1768.7 1844.2,1841.6 1846.1,2075.4 1847.9,1963.8 1849.8,1868.1 1851.6,1956.0 1853.5,1964.4 1855.3,1938.2 1857.2,2030.7 1859.0,1857.3 1860.8,1885.0 1862.7,1914.2 1864.5,1827.4 1866.4,1952.7 1868.2,1904.6 1870.1,1894.7 1871.9,1917.2 1873.7,1957.8 1875.6,1911.0 1877.4,1881.4 1879.3,1818.7 1881.1,1976.8 1883.0,1903.8 1884.8,1827.0 1886.6,1836.3 1888.5,1859.3 1890.3,1896.3 1892.2,1864.6 1894.0,1840.2 1895.9,1883.0 1897.7,1806.3 1899.5,2028.0 1901.4,1824.3 1903.2,1879.9 1905.1,1954.3 1906.9,1773.6 1908.8,1817.0 1910.6,1895.7 1912.5,1898.8 1914.3,1833.2 1916.1,1926.0 1918.0,1847.0 1919.8,1856.7 1921.7,1846.6 1923.5,1797.3 1925.4,1969.6 1927.2,1857.4 1929.0,1916.7 1930.9,1871.1 1932.7,1843.4 1934.6,1854.4 1936.4,1926.0 1938.3,1832.4 1940.1,1771.3 1941.9,1898.7 1943.8,1707.1 1945.6,1643.0 1947.5,1734.4 1949.3,1675.9 1951.2,1611.3 1953.0,1575.6 1954.8,1638.3 1956.7,1673.6 1958.5,1726.8 1960.4,1730.6 1962.2,1589.4 1964.1,1715.1 1965.9,1738.9 1967.8,1628.5 1969.6,1685.5 1971.4,1646.6 1973.3,1749.8 1975.1,1691.4 1977.0,1678.0 1978.8,1599.7 1980.7,1631.3 1982.5,1694.6 1984.3,1585.5 1986.2,1649.2 1988.0,1603.8 1989.9,1596.8 1991.7,1634.9 1993.6,1793.7 1995.4,1657.3 1997.2,1636.1 1999.1,1696.7 2000.9,1695.9 2002.8,1728.0 2004.6,1675.7 2006.5,1551.8 2008.3,1716.5 2010.1,1645.5 2012.0,1626.4 2013.8,1644.8 2015.7,1707.8 2017.5,1585.0 2019.4,1627.9 2021.2,1635.0 2023.1,1999.2 2024.9,1695.1 2026.7,1665.5 2028.6,1611.4 2030.4,1663.3 2032.3,1686.3 2034.1,1602.4 2036.0,1640.3 2037.8,1659.7 2039.6,1574.0 2041.5,1669.1 2043.3,1718.5 2045.2,1743.0 2047.0,1602.4 2048.9,1693.6 2050.7,1563.7 2052.5,1656.8 2054.4,1586.1 2056.2,1711.5 2058.1,1617.2 2059.9,1573.8 2061.8,1812.6 2063.6,1558.0 2065.4,1579.3 2067.3,1680.6 2069.1,1688.2 2071.0,1691.8 2072.8,1708.4 2074.7,1585.1 2076.5,1601.0 2078.4,1681.3 2080.2,1646.3 2082.0,1632.1 2083.9,1704.0 2085.7,1585.4 2087.6,1651.5 2089.4,1588.2 2091.3,1672.2 2093.1,1758.5 2094.9,1691.8 2096.8,1755.9 2098.6,1653.9 2100.5,1712.9 2102.3,1629.4 2104.2,1724.9 2106.0,1611.5 2107.8,1562.7 2109.7,1729.6 2111.5,1925.9 2113.4,1643.3 2115.2,1556.3 2117.1,1744.7 2118.9,1686.9 2120.7,1782.9 2122.6,1741.4 2124.4,1592.7 2126.3,1639.4 2128.1,1666.9 2130.0,1696.7 2131.8,1608.8 2133.7,1580.2 2135.5,1646.2 2137.3,1704.6 2139.2,1847.4 2141.0,1576.2 2142.9,1670.1 2144.7,1578.7 2146.6,1673.9 2148.4,1697.1 2150.2,1666.5 2152.1,1618.7 2153.9,1635.7 2155.8,1566.0 2157.6,1650.4 2159.5,1550.8 2161.3,1596.6 2163.1,1637.8 2165.0,1764.2 2166.8,1662.8 2168.7,1591.4 2170.5,1555.9 2172.4,1637.2 2174.2,1593.3 2176.0,1572.2 2177.9,1603.0 2179.7,1582.7 2181.6,1573.6 2183.4,1563.1 2185.3,1775.3 2187.1,1600.3 2189.0,1624.7 2190.8,1598.3 2192.6,1545.9 2194.5,1558.1 2196.3,2070.0 2198.2,1759.9 2200.0,1602.3 2201.9,1608.8 2203.7,1659.9 2205.5,1593.9 2207.4,1763.2 2209.2,1597.5 2211.1,1606.5 2212.9,1663.3 2214.8,1609.6 2216.6,1574.3 2218.4,1729.8 2220.3,1748.7 2222.1,1637.6 2224.0,1830.2 2225.8,1667.8 2227.7,1622.3 2229.5,1630.7 2231.3,1626.2 2233.2,1748.1 2235.0,1581.5 2236.9,1642.3 2238.7,1701.7 2240.6,1609.6 2242.4,1767.0 2244.3,1587.7 2246.1,1616.5 2247.9,1536.0 2249.8,1642.2 2251.6,1571.0 2253.5,1646.4 2255.3,1555.6 2257.2,1604.4 2259.0,1679.6 2260.8,1602.7 2262.7,1662.0 2264.5,1567.5 2266.4,1661.7 2268.2,1575.6 2270.1,1669.5 2271.9,1662.6 2273.7,1645.6 2275.6,1698.7 2277.4,1573.9 2279.3,1617.8 2281.1,1554.0 2283.0,1623.7 2284.8,1911.1 2286.6,1711.3 2288.5,1569.5 2290.3,1639.7 2292.2,1628.0 2294.0,1659.4 2295.9,1569.6 2297.7,1595.4 2299.6,1600.2 2301.4,1637.4 2303.2,1984.7 2305.1,1604.2 2306.9,1685.3 2308.8,1537.9 2310.6,1731.8 2312.5,1675.6 2314.3,1664.2 2316.1,1687.0 2318.0,1547.3 2319.8,1557.9 2321.7,1619.4 2323.5,1595.4 2325.4,1575.6 2327.2,1625.5 2329.0,1640.2 2330.9,1671.0 2332.7,1602.1 2334.6,1646.6 2336.4,1683.3 2338.3,1688.2 2340.1,1572.0 2341.9,1615.2 2343.8,1666.7 2345.6,1552.0 2347.5,1741.8 2349.3,1695.4 2351.2,1614.7 2353.0,1552.3 2354.9,1582.9 2354.9,1569.4 2355.2,1563.6 2355.6,1564.5 2356.0,1572.2 2356.3,1581.5 2356.7,1583.5 2357.1,1596.9 2357.4,1598.8 2357.8,1589.3 2358.2,1576.0 2358.5,1568.4 2358.9,1576.4 2359.3,1600.4 2359.6,1643.1 2360.0,1700.7 2360.4,1739.4 2360.8,1722.8 2361.1,1656.4 2361.5,1603.7 2361.9,1572.2 2362.2,1559.3 2362.6,1586.0 2363.0,1637.2 2363.3,1712.9 2363.7,1781.9 2364.1,1887.4 2364.4,1720.3 2364.8,1621.0 2365.2,1571.0 2365.5,1555.4 2365.9,1569.4 2366.3,1645.5 2366.7,1728.0 2367.0,1648.0 2367.4,1651.5 2367.8,1714.5 2368.1,1452.3 2368.5,1327.3 2368.9,1265.3 2369.2,1233.1 2369.6,1222.3 2370.0,1232.6 2370.3,1264.1 2370.7,1324.5 2371.1,1441.0 2371.4,1607.6 2371.8,1634.9 2372.2,1658.6 2372.5,1827.8 2372.9,1670.8 2373.3,1583.8 2373.7,1565.3 2374.0,1584.3 2374.4,1647.6 2374.8,1802.1 2375.1,1768.3 2375.5,1755.4 2375.9,1873.0 2376.2,1800.8 2376.6,1683.9 2377.0,1646.8 2377.3,1613.3 2377.7,1607.7 2378.1,1611.4 2378.4,1607.7 2378.8,1586.7 2379.2,1590.8 2379.6,1579.9 2379.9,1566.9 2380.3,1561.1 2380.7,1565.5 2381.0,1596.8 2381.4,1638.6 2381.8,1663.8 2382.1,1639.7 2382.5,1599.5 2382.9,1622.2 2383.2,1635.0 2383.6,1640.8 2384.0,1648.4 2384.3,1654.9 2386.2,1789.0 2388.0,1630.9 2389.9,1591.4 2391.7,1648.8 2393.6,1694.2 2395.4,1684.9 2397.2,1649.2 2399.1,1773.6 2400.9,1650.5 2402.8,1561.5 2404.6,1587.1 2406.5,1776.7 2408.3,1611.5 2410.2,1554.9 2412.0,1675.7 2413.8,1682.6 2415.7,1612.3 2417.5,1651.6 2419.4,1706.5 2421.2,1569.9 2423.1,1529.9 2424.9,1643.7 2426.7,1609.6 2428.6,1696.9 2430.4,1627.4 2432.3,1613.9 2434.1,1719.7 2436.0,1565.3 2437.8,1703.5 2439.6,1571.6 2441.5,1556.2 2443.3,1636.2 2445.2,1594.6 2447.0,1537.1 2448.9,1679.8 2450.7,1674.1 2452.5,1694.4 2454.4,1657.6 2456.2,1557.6 2458.1,1575.4 2459.9,1706.1 2461.8,1713.6 2463.6,1739.3 2465.5,1629.6 2467.3,1655.2 2469.1,1643.2 2471.0,1571.5 2472.8,1633.4 2474.7,1662.7 2476.5,1630.0 2478.4,1606.4 2480.2,1587.4 2482.0,1511.0 2483.9,1582.2 2485.7,1657.9 2487.6,1728.6 2489.4,1626.3 2491.3,1690.3 2493.1,1838.0 2494.9,1594.1 2496.8,1601.5 2498.6,1663.1 2500.5,1555.2 2502.3,1713.2 2504.2,1632.6 2506.0,1604.2 2507.8,1524.9 2509.7,1604.8 2511.5,1821.6 2513.4,1650.6 2515.2,1617.4 2517.1,1584.6 2518.9,1798.8 2520.8,1656.1 2522.6,1740.7 2524.4,1577.5 2526.3,1578.2 2528.1,1581.0 2530.0,1712.8 2531.8,1620.5 2533.7,1661.3 2535.5,1681.2 2537.3,1684.8 2539.2,1757.0 2541.0,1790.5 2542.9,1577.9 2544.7,1669.2 2546.6,1629.2 2548.4,1588.7 2550.2,1646.7 2552.1,1825.4 2553.9,1652.5 2555.8,1616.9 2557.6,1610.5 2559.5,1587.9 2561.3,1601.9 2563.1,1755.0 2565.0,1679.0 2566.8,1593.1 2568.7,1627.6 2570.5,1709.0 2572.4,1569.8 2574.2,1608.6 2576.1,1534.1 2577.9,1693.4 2579.7,1558.7 2581.6,2075.4 2583.4,1515.6 2585.3,1640.5 2587.1,1557.1 2589.0,1781.1 2590.8,1585.8 2592.6,1587.3 2594.5,1626.4 2596.3,1539.1 2598.2,1650.0 2600.0,1571.2 2601.9,1597.2 2603.7,1852.2 2605.5,1609.9 2607.4,1741.8 2609.2,1658.2 2611.1,1730.1 2612.9,1825.6 2614.8,1630.0 2616.6,1892.0 2618.4,1842.2 2620.3,1620.6 2622.1,1601.1 2624.0,1728.3 2625.8,1666.7 2627.7,1750.0 2629.5,1651.4 2631.4,1547.3 2633.2,1704.6 2635.0,1566.2 2636.9,1719.9 2638.7,1609.4 2640.6,1680.1 2642.4,1617.4 2644.3,1622.7 2646.1,1587.6 2647.9,1611.9 2649.8,1615.5 2651.6,1664.6 2653.5,1661.6 2655.3,1657.6 2657.2,1581.8 2659.0,1683.1 2660.8,1672.0 2662.7,1728.0 2664.5,1610.9 2666.4,1643.2 2668.2,1603.3 2670.1,1642.4 2671.9,1537.5 2673.7,1773.4 2675.6,1694.8 2677.4,1817.2 2679.3,1645.6 2681.1,1628.9 2683.0,1639.6 2684.8,1756.4 2686.7,1616.9 2688.5,1675.9 2690.3,1605.8 2692.2,1783.9 2694.0,1610.3 2695.9,1664.4 2697.7,1518.1 2699.6,1631.6 2701.4,1646.1 2703.2,1671.0 2705.1,1666.0 2706.9,1679.1 2708.8,1555.3 2710.6,1735.3 2712.5,1579.9 2714.3,1819.7 2716.1,1686.8 2718.0,1619.8 2719.8,1615.8 2721.7,1667.7 2723.5,1694.7 2725.4,1720.0 2727.2,1584.0 2729.0,1613.3 2730.9,1593.7 2732.7,1618.6 2734.6,1569.2 2736.4,2013.4 2738.3,1597.6 2740.1,1778.8 2742.0,1902.0 2743.8,1583.0 2745.6,1606.5 2747.5,1714.0 2749.3,1709.9 2751.2,1725.6 2753.0,1697.6 2754.9,1666.1 2756.7,1624.4 2758.5,1692.7 2760.4,1675.6 2762.2,1684.2 2764.1,1676.8 2765.9,1594.5 2767.8,1567.2 2769.6,1710.2 2771.4,1803.1 2773.3,1688.3 2775.1,1728.5 2777.0,1789.5 2778.8,1633.3 2780.7,1714.5 2782.5,1637.3 2784.3,1656.5 2786.2,1648.3 2788.0,1666.4 2789.9,1813.4 2791.7,1697.7 2793.6,1691.9 2795.4,1678.7 2797.3,1572.0 2799.1,1654.1 2800.9,1600.3 2802.8,1683.4 2804.6,1756.6 2806.5,1785.7 2808.3,1631.1 2810.2,1663.1 2812.0,1635.5 2813.8,1683.8 2815.7,1710.9 2817.5,1719.3 2819.4,1614.3 2821.2,1725.7 2823.1,1732.1 2824.9,1789.2 2826.7,1689.8 2828.6,1717.6 2830.4,1630.0 2832.3,1705.5 2834.1,1723.8 2836.0,1862.9 2837.8,1790.1 2839.6,1766.8 2841.5,1768.7 2843.3,1810.0 2845.2,1805.4 2847.0,1805.5 2848.9,1884.5 2850.7,1831.9 2852.6,1760.9 2854.4,1737.9 2856.2,1778.1 2858.1,1968.2 2859.9,1790.5 2861.8,1731.3 2863.6,1753.3 2865.5,1814.9 2867.3,1959.3 2869.1,1752.1 2871.0,1838.9 2872.8,1734.6 2874.7,1760.1 2876.5,1825.1 2878.4,1736.5 2880.2,1876.3 2882.0,1745.6 2883.9,1850.0 2885.7,1780.4 2887.6,1721.2 2889.4,1728.5 2891.3,1843.7 2893.1,1744.3 2894.9,1935.6 2896.8,1823.6 2898.6,1782.3 2900.5,1803.9 2902.3,1828.5 2904.2,1758.1 2906.0,1865.4 2907.9,1835.1 2909.7,1768.1 2911.5,1778.0 2913.4,1744.9 2915.2,1797.1 2917.1,1860.2 2918.9,1801.9 2920.8,1786.0 2922.6,1935.5" fill="none" stroke="#231f20" stroke-width="3.5" stroke-linejoin="round" stroke-linecap="round"/>
<line x1="1816.9" y1="1222.3" x2="2922.6" y2="1222.3" stroke="#231f20" stroke-width="2.8" stroke-dasharray="6.95 18.80"/>
<line x1="2369.6" y1="1157.8" x2="2369.6" y2="2035.4" stroke="#231f20" stroke-width="3" stroke-dasharray="7.18 18.46"/>
<rect x="1816.6" y="1148.4" width="1106.0" height="887.0" fill="none" stroke="#231f20" stroke-width="2.8"/>
<line x1="1816.6" y1="1222.3" x2="1832.1" y2="1222.3" stroke="#231f20" stroke-width="2.8"/>
<text x="1794.8" y="1235.8" text-anchor="end">0</text>
<line x1="1816.6" y1="1370.2" x2="1832.1" y2="1370.2" stroke="#231f20" stroke-width="2.8"/>
<text x="1794.8" y="1383.7" text-anchor="end">−10</text>
<line x1="1816.6" y1="1518.0" x2="1832.1" y2="1518.0" stroke="#231f20" stroke-width="2.8"/>
<text x="1794.8" y="1531.5" text-anchor="end">−20</text>
<line x1="1816.6" y1="1665.8" x2="1832.1" y2="1665.8" stroke="#231f20" stroke-width="2.8"/>
<text x="1794.8" y="1679.3" text-anchor="end">−30</text>
<line x1="1816.6" y1="1813.7" x2="1832.1" y2="1813.7" stroke="#231f20" stroke-width="2.8"/>
<text x="1794.8" y="1827.2" text-anchor="end">−40</text>
<line x1="1816.6" y1="1961.5" x2="1832.1" y2="1961.5" stroke="#231f20" stroke-width="2.8"/>
<text x="1794.8" y="1975.0" text-anchor="end">−50</text>
<text x="1816.6" y="2094.7" text-anchor="middle">110</text>
<line x1="2000.9" y1="2035.4" x2="2000.9" y2="2019.9" stroke="#231f20" stroke-width="2.8"/>
<text x="2000.9" y="2094.7" text-anchor="middle">115</text>
<line x1="2185.3" y1="2035.4" x2="2185.3" y2="2019.9" stroke="#231f20" stroke-width="2.8"/>
<text x="2185.3" y="2094.7" text-anchor="middle">120</text>
<line x1="2369.6" y1="2035.4" x2="2369.6" y2="2019.9" stroke="#231f20" stroke-width="2.8"/>
<text x="2369.6" y="2094.7" text-anchor="middle">125</text>
<line x1="2553.9" y1="2035.4" x2="2553.9" y2="2019.9" stroke="#231f20" stroke-width="2.8"/>
<text x="2553.9" y="2094.7" text-anchor="middle">130</text>
<line x1="2738.3" y1="2035.4" x2="2738.3" y2="2019.9" stroke="#231f20" stroke-width="2.8"/>
<text x="2738.3" y="2094.7" text-anchor="middle">135</text>
<text x="2922.6" y="2094.7" text-anchor="middle">140</text>
<text x="2369.6" y="2161.7" text-anchor="middle">时延/μs</text>
<text x="2369.6" y="2233.2" text-anchor="middle">(d) 多个假目标干扰抑制后</text>
<text class="yl" transform="translate(1684.9,1592.6) rotate(-90)" text-anchor="middle">归一化幅度/dB</text>
<text x="959.5" y="142.5">干扰</text>
<text x="784.5" y="426.0">目标</text>
<text x="2391.0" y="128.6">目标</text>
<text x="1004.5" y="1285.3">干扰</text>
<text x="784.5" y="1578.5">目标</text>
<text x="2391.9" y="1281.2">目标</text>
</svg></body></html>
